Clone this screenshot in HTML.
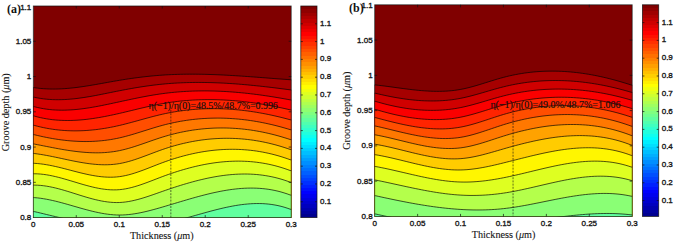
<!DOCTYPE html>
<html><head><meta charset="utf-8"><style>
html,body{margin:0;padding:0;background:#fff;}
body{width:675px;height:244px;overflow:hidden;}
svg{display:block;}
.tk{font-family:"Liberation Sans",sans-serif;font-size:8px;fill:#1a1a1a;stroke:#1a1a1a;stroke-width:0.35px;}
.an{font-family:"Liberation Serif",serif;font-size:10px;fill:#111;stroke:#111;stroke-width:0.15px;}
.al{font-family:"Liberation Serif",serif;font-size:10.2px;fill:#151515;stroke:#151515;stroke-width:0.1px;}
.pl{font-family:"Liberation Serif",serif;font-size:12px;font-weight:bold;fill:#111;}
</style></head><body>
<svg width="675" height="244" viewBox="0 0 675 244">
<rect width="675" height="244" fill="#fff"/>
<clipPath id="c0"><rect x="33.3" y="6" width="257.9" height="211.6"/></clipPath>
<g clip-path="url(#c0)">
<rect x="33.3" y="6" width="257.9" height="211.6" fill="#800000"/>
<path d="M31.3,222.6 L31.3,87.49 L34.35,87.66 L37.39,88.09 L40.44,88.44 L43.48,88.7 L46.53,88.89 L49.57,89.01 L52.62,89.06 L55.66,89.04 L58.71,88.96 L61.75,88.82 L64.8,88.63 L67.84,88.39 L70.89,88.11 L73.93,87.78 L76.98,87.41 L80.03,87.01 L83.07,86.57 L86.12,86.11 L89.16,85.62 L92.21,85.12 L95.25,84.6 L98.3,84.06 L101.34,83.52 L104.39,82.97 L107.43,82.42 L110.48,81.87 L113.52,81.33 L116.57,80.8 L119.62,80.29 L122.66,79.79 L125.71,79.31 L128.75,78.84 L131.8,78.4 L134.84,77.98 L137.89,77.57 L140.93,77.19 L143.98,76.83 L147.02,76.49 L150.07,76.17 L153.11,75.87 L156.16,75.6 L159.2,75.35 L162.25,75.13 L165.3,74.93 L168.34,74.76 L171.39,74.61 L174.43,74.49 L177.48,74.38 L180.52,74.3 L183.57,74.24 L186.61,74.2 L189.66,74.18 L192.7,74.18 L195.75,74.19 L198.79,74.22 L201.84,74.27 L204.88,74.34 L207.93,74.42 L210.98,74.52 L214.02,74.62 L217.07,74.75 L220.11,74.88 L223.16,75.03 L226.2,75.18 L229.25,75.35 L232.29,75.53 L235.34,75.71 L238.38,75.91 L241.43,76.11 L244.47,76.32 L247.52,76.53 L250.57,76.75 L253.61,76.97 L256.66,77.2 L259.7,77.43 L262.75,77.66 L265.79,77.89 L268.84,78.13 L271.88,78.36 L274.93,78.6 L277.97,78.83 L281.02,79.06 L284.06,79.29 L287.11,79.51 L290.15,79.73 L293.2,79.81 L293.2,222.6 Z" fill="#a60000"/>
<path d="M31.3,222.6 L31.3,97.02 L34.35,97.26 L37.39,97.89 L40.44,98.42 L43.48,98.85 L46.53,99.2 L49.57,99.45 L52.62,99.62 L55.66,99.71 L58.71,99.73 L61.75,99.67 L64.8,99.55 L67.84,99.36 L70.89,99.12 L73.93,98.82 L76.98,98.47 L80.03,98.07 L83.07,97.64 L86.12,97.17 L89.16,96.66 L92.21,96.13 L95.25,95.57 L98.3,94.99 L101.34,94.39 L104.39,93.78 L107.43,93.17 L110.48,92.55 L113.52,91.93 L116.57,91.32 L119.62,90.72 L122.66,90.13 L125.71,89.55 L128.75,88.99 L131.8,88.45 L134.84,87.92 L137.89,87.41 L140.93,86.93 L143.98,86.46 L147.02,86.02 L150.07,85.6 L153.11,85.2 L156.16,84.83 L159.2,84.48 L162.25,84.17 L165.3,83.88 L168.34,83.62 L171.39,83.39 L174.43,83.18 L177.48,83 L180.52,82.85 L183.57,82.72 L186.61,82.62 L189.66,82.54 L192.7,82.49 L195.75,82.45 L198.79,82.44 L201.84,82.46 L204.88,82.49 L207.93,82.55 L210.98,82.62 L214.02,82.72 L217.07,82.83 L220.11,82.96 L223.16,83.11 L226.2,83.28 L229.25,83.47 L232.29,83.67 L235.34,83.89 L238.38,84.12 L241.43,84.37 L244.47,84.63 L247.52,84.9 L250.57,85.19 L253.61,85.49 L256.66,85.8 L259.7,86.12 L262.75,86.46 L265.79,86.8 L268.84,87.15 L271.88,87.51 L274.93,87.88 L277.97,88.26 L281.02,88.65 L284.06,89.04 L287.11,89.44 L290.15,89.84 L293.2,89.98 L293.2,222.6 Z" fill="#d00000"/>
<path d="M31.3,222.6 L31.3,106.44 L34.35,106.72 L37.39,107.48 L40.44,108.14 L43.48,108.7 L46.53,109.16 L49.57,109.53 L52.62,109.82 L55.66,110.02 L58.71,110.14 L61.75,110.19 L64.8,110.16 L67.84,110.06 L70.89,109.91 L73.93,109.69 L76.98,109.41 L80.03,109.08 L83.07,108.7 L86.12,108.28 L89.16,107.82 L92.21,107.31 L95.25,106.78 L98.3,106.22 L101.34,105.63 L104.39,105.01 L107.43,104.38 L110.48,103.74 L113.52,103.09 L116.57,102.43 L119.62,101.77 L122.66,101.1 L125.71,100.45 L128.75,99.8 L131.8,99.15 L134.84,98.52 L137.89,97.9 L140.93,97.29 L143.98,96.71 L147.02,96.14 L150.07,95.59 L153.11,95.07 L156.16,94.58 L159.2,94.11 L162.25,93.68 L165.3,93.27 L168.34,92.91 L171.39,92.57 L174.43,92.27 L177.48,92 L180.52,91.76 L183.57,91.55 L186.61,91.37 L189.66,91.22 L192.7,91.1 L195.75,91.01 L198.79,90.94 L201.84,90.91 L204.88,90.9 L207.93,90.92 L210.98,90.97 L214.02,91.04 L217.07,91.13 L220.11,91.26 L223.16,91.4 L226.2,91.57 L229.25,91.77 L232.29,91.99 L235.34,92.23 L238.38,92.49 L241.43,92.77 L244.47,93.08 L247.52,93.4 L250.57,93.75 L253.61,94.12 L256.66,94.5 L259.7,94.9 L262.75,95.33 L265.79,95.77 L268.84,96.22 L271.88,96.7 L274.93,97.19 L277.97,97.69 L281.02,98.22 L284.06,98.75 L287.11,99.3 L290.15,99.87 L293.2,100.07 L293.2,222.6 Z" fill="#fa0000"/>
<path d="M31.3,222.6 L31.3,115.79 L34.35,116.09 L37.39,116.91 L40.44,117.64 L43.48,118.28 L46.53,118.83 L49.57,119.3 L52.62,119.69 L55.66,120 L58.71,120.23 L61.75,120.39 L64.8,120.48 L67.84,120.51 L70.89,120.47 L73.93,120.37 L76.98,120.21 L80.03,120 L83.07,119.73 L86.12,119.41 L89.16,119.04 L92.21,118.63 L95.25,118.17 L98.3,117.68 L101.34,117.15 L104.39,116.59 L107.43,115.99 L110.48,115.37 L113.52,114.72 L116.57,114.05 L119.62,113.36 L122.66,112.65 L125.71,111.92 L128.75,111.19 L131.8,110.46 L134.84,109.72 L137.89,108.98 L140.93,108.26 L143.98,107.54 L147.02,106.84 L150.07,106.15 L153.11,105.49 L156.16,104.86 L159.2,104.26 L162.25,103.69 L165.3,103.16 L168.34,102.67 L171.39,102.22 L174.43,101.81 L177.48,101.43 L180.52,101.09 L183.57,100.79 L186.61,100.52 L189.66,100.29 L192.7,100.09 L195.75,99.93 L198.79,99.8 L201.84,99.71 L204.88,99.65 L207.93,99.62 L210.98,99.62 L214.02,99.66 L217.07,99.73 L220.11,99.83 L223.16,99.96 L226.2,100.13 L229.25,100.32 L232.29,100.54 L235.34,100.79 L238.38,101.07 L241.43,101.38 L244.47,101.72 L247.52,102.08 L250.57,102.47 L253.61,102.89 L256.66,103.33 L259.7,103.8 L262.75,104.3 L265.79,104.82 L268.84,105.37 L271.88,105.93 L274.93,106.53 L277.97,107.14 L281.02,107.78 L284.06,108.44 L287.11,109.13 L290.15,109.83 L293.2,110.08 L293.2,222.6 Z" fill="#ff2400"/>
<path d="M31.3,222.6 L31.3,125.12 L34.35,125.41 L37.39,126.22 L40.44,126.96 L43.48,127.64 L46.53,128.24 L49.57,128.78 L52.62,129.26 L55.66,129.67 L58.71,130.02 L61.75,130.31 L64.8,130.53 L67.84,130.7 L70.89,130.81 L73.93,130.86 L76.98,130.85 L80.03,130.79 L83.07,130.68 L86.12,130.51 L89.16,130.28 L92.21,130.01 L95.25,129.69 L98.3,129.32 L101.34,128.89 L104.39,128.43 L107.43,127.91 L110.48,127.35 L113.52,126.75 L116.57,126.1 L119.62,125.41 L122.66,124.68 L125.71,123.92 L128.75,123.12 L131.8,122.31 L134.84,121.48 L137.89,120.64 L140.93,119.79 L143.98,118.95 L147.02,118.11 L150.07,117.29 L153.11,116.48 L156.16,115.71 L159.2,114.96 L162.25,114.26 L165.3,113.59 L168.34,112.97 L171.39,112.4 L174.43,111.86 L177.48,111.37 L180.52,110.92 L183.57,110.52 L186.61,110.15 L189.66,109.83 L192.7,109.54 L195.75,109.3 L198.79,109.1 L201.84,108.93 L204.88,108.81 L207.93,108.72 L210.98,108.68 L214.02,108.67 L217.07,108.7 L220.11,108.76 L223.16,108.86 L226.2,109 L229.25,109.18 L232.29,109.39 L235.34,109.64 L238.38,109.92 L241.43,110.24 L244.47,110.59 L247.52,110.98 L250.57,111.4 L253.61,111.85 L256.66,112.34 L259.7,112.86 L262.75,113.41 L265.79,113.99 L268.84,114.6 L271.88,115.25 L274.93,115.93 L277.97,116.63 L281.02,117.37 L284.06,118.13 L287.11,118.93 L290.15,119.75 L293.2,120.04 L293.2,222.6 Z" fill="#ff4e00"/>
<path d="M31.3,222.6 L31.3,134.47 L34.35,134.73 L37.39,135.46 L40.44,136.16 L43.48,136.82 L46.53,137.44 L49.57,138.02 L52.62,138.57 L55.66,139.07 L58.71,139.53 L61.75,139.94 L64.8,140.31 L67.84,140.64 L70.89,140.91 L73.93,141.14 L76.98,141.32 L80.03,141.44 L83.07,141.52 L86.12,141.54 L89.16,141.5 L92.21,141.41 L95.25,141.26 L98.3,141.05 L101.34,140.78 L104.39,140.45 L107.43,140.06 L110.48,139.61 L113.52,139.09 L116.57,138.5 L119.62,137.85 L122.66,137.13 L125.71,136.35 L128.75,135.52 L131.8,134.65 L134.84,133.75 L137.89,132.81 L140.93,131.86 L143.98,130.9 L147.02,129.94 L150.07,128.99 L153.11,128.05 L156.16,127.13 L159.2,126.25 L162.25,125.4 L165.3,124.6 L168.34,123.85 L171.39,123.15 L174.43,122.5 L177.48,121.89 L180.52,121.32 L183.57,120.81 L186.61,120.34 L189.66,119.91 L192.7,119.53 L195.75,119.2 L198.79,118.91 L201.84,118.67 L204.88,118.47 L207.93,118.31 L210.98,118.2 L214.02,118.13 L217.07,118.1 L220.11,118.12 L223.16,118.18 L226.2,118.28 L229.25,118.42 L232.29,118.61 L235.34,118.83 L238.38,119.1 L241.43,119.41 L244.47,119.76 L247.52,120.14 L250.57,120.57 L253.61,121.04 L256.66,121.55 L259.7,122.09 L262.75,122.68 L265.79,123.3 L268.84,123.97 L271.88,124.67 L274.93,125.4 L277.97,126.18 L281.02,126.99 L284.06,127.84 L287.11,128.72 L290.15,129.64 L293.2,129.97 L293.2,222.6 Z" fill="#ff7800"/>
<path d="M31.3,222.6 L31.3,143.87 L34.35,144.07 L37.39,144.66 L40.44,145.26 L43.48,145.86 L46.53,146.46 L49.57,147.06 L52.62,147.65 L55.66,148.23 L58.71,148.79 L61.75,149.33 L64.8,149.84 L67.84,150.33 L70.89,150.78 L73.93,151.2 L76.98,151.59 L80.03,151.92 L83.07,152.21 L86.12,152.45 L89.16,152.64 L92.21,152.76 L95.25,152.82 L98.3,152.82 L101.34,152.75 L104.39,152.6 L107.43,152.37 L110.48,152.06 L113.52,151.66 L116.57,151.18 L119.62,150.6 L122.66,149.92 L125.71,149.17 L128.75,148.33 L131.8,147.43 L134.84,146.48 L137.89,145.48 L140.93,144.45 L143.98,143.4 L147.02,142.33 L150.07,141.26 L153.11,140.2 L156.16,139.16 L159.2,138.15 L162.25,137.17 L165.3,136.25 L168.34,135.37 L171.39,134.55 L174.43,133.77 L177.48,133.04 L180.52,132.37 L183.57,131.74 L186.61,131.16 L189.66,130.63 L192.7,130.14 L195.75,129.71 L198.79,129.33 L201.84,128.99 L204.88,128.7 L207.93,128.46 L210.98,128.27 L214.02,128.12 L217.07,128.02 L220.11,127.97 L223.16,127.97 L226.2,128.01 L229.25,128.1 L232.29,128.24 L235.34,128.42 L238.38,128.65 L241.43,128.93 L244.47,129.25 L247.52,129.62 L250.57,130.03 L253.61,130.49 L256.66,131 L259.7,131.55 L262.75,132.15 L265.79,132.79 L268.84,133.48 L271.88,134.21 L274.93,134.98 L277.97,135.8 L281.02,136.67 L284.06,137.58 L287.11,138.53 L290.15,139.53 L293.2,139.88 L293.2,222.6 Z" fill="#ffa200"/>
<path d="M31.3,222.6 L31.3,153.41 L34.35,153.53 L37.39,153.93 L40.44,154.38 L43.48,154.88 L46.53,155.43 L49.57,156.01 L52.62,156.62 L55.66,157.25 L58.71,157.89 L61.75,158.54 L64.8,159.2 L67.84,159.85 L70.89,160.49 L73.93,161.11 L76.98,161.7 L80.03,162.26 L83.07,162.78 L86.12,163.26 L89.16,163.69 L92.21,164.05 L95.25,164.35 L98.3,164.58 L101.34,164.73 L104.39,164.79 L107.43,164.76 L110.48,164.63 L113.52,164.39 L116.57,164.04 L119.62,163.57 L122.66,162.98 L125.71,162.27 L128.75,161.47 L131.8,160.58 L134.84,159.61 L137.89,158.59 L140.93,157.51 L143.98,156.39 L147.02,155.25 L150.07,154.1 L153.11,152.95 L156.16,151.8 L159.2,150.68 L162.25,149.6 L165.3,148.57 L168.34,147.58 L171.39,146.65 L174.43,145.76 L177.48,144.92 L180.52,144.13 L183.57,143.4 L186.61,142.71 L189.66,142.07 L192.7,141.48 L195.75,140.94 L198.79,140.45 L201.84,140.01 L204.88,139.62 L207.93,139.28 L210.98,138.99 L214.02,138.75 L217.07,138.57 L220.11,138.43 L223.16,138.34 L226.2,138.31 L229.25,138.32 L232.29,138.39 L235.34,138.51 L238.38,138.67 L241.43,138.9 L244.47,139.17 L247.52,139.49 L250.57,139.86 L253.61,140.29 L256.66,140.77 L259.7,141.3 L262.75,141.88 L265.79,142.52 L268.84,143.2 L271.88,143.94 L274.93,144.73 L277.97,145.57 L281.02,146.47 L284.06,147.42 L287.11,148.42 L290.15,149.47 L293.2,149.85 L293.2,222.6 Z" fill="#ffcc00"/>
<path d="M31.3,222.6 L31.3,163.29 L34.35,163.34 L37.39,163.54 L40.44,163.85 L43.48,164.25 L46.53,164.72 L49.57,165.27 L52.62,165.89 L55.66,166.55 L58.71,167.26 L61.75,168.01 L64.8,168.78 L67.84,169.57 L70.89,170.37 L73.93,171.17 L76.98,171.95 L80.03,172.72 L83.07,173.45 L86.12,174.15 L89.16,174.8 L92.21,175.39 L95.25,175.92 L98.3,176.37 L101.34,176.73 L104.39,177.01 L107.43,177.17 L110.48,177.23 L113.52,177.17 L116.57,176.97 L119.62,176.63 L122.66,176.15 L125.71,175.54 L128.75,174.81 L131.8,173.97 L134.84,173.04 L137.89,172.03 L140.93,170.95 L143.98,169.83 L147.02,168.66 L150.07,167.48 L153.11,166.28 L156.16,165.08 L159.2,163.9 L162.25,162.75 L165.3,161.65 L168.34,160.58 L171.39,159.56 L174.43,158.59 L177.48,157.66 L180.52,156.78 L183.57,155.95 L186.61,155.16 L189.66,154.42 L192.7,153.72 L195.75,153.08 L198.79,152.48 L201.84,151.94 L204.88,151.44 L207.93,151 L210.98,150.6 L214.02,150.26 L217.07,149.97 L220.11,149.73 L223.16,149.54 L226.2,149.41 L229.25,149.33 L232.29,149.3 L235.34,149.33 L238.38,149.41 L241.43,149.55 L244.47,149.75 L247.52,150 L250.57,150.31 L253.61,150.67 L256.66,151.09 L259.7,151.58 L262.75,152.12 L265.79,152.72 L268.84,153.38 L271.88,154.1 L274.93,154.88 L277.97,155.72 L281.02,156.62 L284.06,157.59 L287.11,158.62 L290.15,159.71 L293.2,160.1 L293.2,222.6 Z" fill="#fff600"/>
<path d="M31.3,222.6 L31.3,173.78 L34.35,173.77 L37.39,173.85 L40.44,174.06 L43.48,174.38 L46.53,174.81 L49.57,175.34 L52.62,175.96 L55.66,176.65 L58.71,177.4 L61.75,178.21 L64.8,179.07 L67.84,179.95 L70.89,180.86 L73.93,181.78 L76.98,182.7 L80.03,183.61 L83.07,184.5 L86.12,185.35 L89.16,186.17 L92.21,186.93 L95.25,187.63 L98.3,188.26 L101.34,188.8 L104.39,189.24 L107.43,189.58 L110.48,189.8 L113.52,189.89 L116.57,189.85 L119.62,189.66 L122.66,189.31 L125.71,188.82 L128.75,188.2 L131.8,187.46 L134.84,186.62 L137.89,185.69 L140.93,184.69 L143.98,183.62 L147.02,182.51 L150.07,181.36 L153.11,180.19 L156.16,179.01 L159.2,177.84 L162.25,176.68 L165.3,175.56 L168.34,174.47 L171.39,173.42 L174.43,172.4 L177.48,171.42 L180.52,170.47 L183.57,169.57 L186.61,168.71 L189.66,167.88 L192.7,167.1 L195.75,166.36 L198.79,165.67 L201.84,165.02 L204.88,164.42 L207.93,163.86 L210.98,163.36 L214.02,162.9 L217.07,162.49 L220.11,162.14 L223.16,161.83 L226.2,161.58 L229.25,161.39 L232.29,161.25 L235.34,161.17 L238.38,161.14 L241.43,161.17 L244.47,161.27 L247.52,161.42 L250.57,161.64 L253.61,161.91 L256.66,162.26 L259.7,162.66 L262.75,163.13 L265.79,163.67 L268.84,164.28 L271.88,164.96 L274.93,165.7 L277.97,166.52 L281.02,167.41 L284.06,168.37 L287.11,169.41 L290.15,170.52 L293.2,170.92 L293.2,222.6 Z" fill="#deff21"/>
<path d="M31.3,222.6 L31.3,185.11 L34.35,185.11 L37.39,185.19 L40.44,185.4 L43.48,185.72 L46.53,186.16 L49.57,186.7 L52.62,187.33 L55.66,188.03 L58.71,188.81 L61.75,189.64 L64.8,190.52 L67.84,191.43 L70.89,192.37 L73.93,193.33 L76.98,194.29 L80.03,195.25 L83.07,196.19 L86.12,197.11 L89.16,197.99 L92.21,198.82 L95.25,199.6 L98.3,200.31 L101.34,200.94 L104.39,201.48 L107.43,201.92 L110.48,202.26 L113.52,202.47 L116.57,202.56 L119.62,202.5 L122.66,202.3 L125.71,201.96 L128.75,201.49 L131.8,200.91 L134.84,200.23 L137.89,199.46 L140.93,198.61 L143.98,197.7 L147.02,196.73 L150.07,195.71 L153.11,194.66 L156.16,193.6 L159.2,192.52 L162.25,191.45 L165.3,190.39 L168.34,189.35 L171.39,188.33 L174.43,187.32 L177.48,186.34 L180.52,185.38 L183.57,184.45 L186.61,183.55 L189.66,182.67 L192.7,181.83 L195.75,181.01 L198.79,180.24 L201.84,179.5 L204.88,178.8 L207.93,178.14 L210.98,177.52 L214.02,176.94 L217.07,176.41 L220.11,175.93 L223.16,175.5 L226.2,175.12 L229.25,174.79 L232.29,174.52 L235.34,174.3 L238.38,174.15 L241.43,174.05 L244.47,174.01 L247.52,174.04 L250.57,174.14 L253.61,174.3 L256.66,174.53 L259.7,174.83 L262.75,175.21 L265.79,175.66 L268.84,176.19 L271.88,176.79 L274.93,177.48 L277.97,178.25 L281.02,179.1 L284.06,180.04 L287.11,181.07 L290.15,182.18 L293.2,182.59 L293.2,222.6 Z" fill="#b4ff4b"/>
<path d="M31.3,222.6 L31.3,197.55 L34.35,197.62 L37.39,197.89 L40.44,198.26 L43.48,198.71 L46.53,199.24 L49.57,199.84 L52.62,200.5 L55.66,201.21 L58.71,201.97 L61.75,202.78 L64.8,203.61 L67.84,204.46 L70.89,205.34 L73.93,206.22 L76.98,207.09 L80.03,207.97 L83.07,208.82 L86.12,209.65 L89.16,210.45 L92.21,211.22 L95.25,211.93 L98.3,212.59 L101.34,213.19 L104.39,213.72 L107.43,214.17 L110.48,214.53 L113.52,214.8 L116.57,214.97 L119.62,215.02 L122.66,214.97 L125.71,214.81 L128.75,214.54 L131.8,214.19 L134.84,213.74 L137.89,213.22 L140.93,212.63 L143.98,211.97 L147.02,211.26 L150.07,210.5 L153.11,209.7 L156.16,208.86 L159.2,208 L162.25,207.12 L165.3,206.22 L168.34,205.32 L171.39,204.41 L174.43,203.5 L177.48,202.58 L180.52,201.67 L183.57,200.77 L186.61,199.87 L189.66,198.98 L192.7,198.11 L195.75,197.26 L198.79,196.42 L201.84,195.61 L204.88,194.83 L207.93,194.07 L210.98,193.34 L214.02,192.65 L217.07,192 L220.11,191.38 L223.16,190.81 L226.2,190.29 L229.25,189.81 L232.29,189.39 L235.34,189.02 L238.38,188.7 L241.43,188.45 L244.47,188.26 L247.52,188.14 L250.57,188.09 L253.61,188.1 L256.66,188.2 L259.7,188.37 L262.75,188.62 L265.79,188.95 L268.84,189.37 L271.88,189.88 L274.93,190.49 L277.97,191.18 L281.02,191.98 L284.06,192.88 L287.11,193.87 L290.15,194.98 L293.2,195.39 L293.2,222.6 Z" fill="#8aff75"/>
<path d="M31.3,222.6 L31.3,211.34 L34.35,211.59 L37.39,212.31 L40.44,213.03 L43.48,213.76 L46.53,214.5 L49.57,215.23 L52.62,215.96 L55.66,216.68 L58.71,217.4 L61.75,218.11 L64.8,218.81 L67.84,219.5 L70.89,220.17 L73.93,220.82 L76.98,221.46 L80.03,222.07 L83.07,222.66 L86.12,223.22 L89.16,223.76 L92.21,224.26 L95.25,224.73 L98.3,225.17 L101.34,225.57 L104.39,225.94 L107.43,226.26 L110.48,226.54 L113.52,226.77 L116.57,226.96 L119.62,227.1 L122.66,227.18 L125.71,227.22 L128.75,227.21 L131.8,227.14 L134.84,227.02 L137.89,226.86 L140.93,226.64 L143.98,226.37 L147.02,226.06 L150.07,225.69 L153.11,225.28 L156.16,224.81 L159.2,224.3 L162.25,223.74 L165.3,223.13 L168.34,222.48 L171.39,221.79 L174.43,221.06 L177.48,220.3 L180.52,219.51 L183.57,218.7 L186.61,217.87 L189.66,217.03 L192.7,216.18 L195.75,215.32 L198.79,214.46 L201.84,213.6 L204.88,212.75 L207.93,211.91 L210.98,211.09 L214.02,210.29 L217.07,209.51 L220.11,208.76 L223.16,208.04 L226.2,207.36 L229.25,206.72 L232.29,206.13 L235.34,205.59 L238.38,205.1 L241.43,204.67 L244.47,204.3 L247.52,204 L250.57,203.77 L253.61,203.61 L256.66,203.54 L259.7,203.55 L262.75,203.64 L265.79,203.83 L268.84,204.12 L271.88,204.51 L274.93,205 L277.97,205.6 L281.02,206.32 L284.06,207.15 L287.11,208.11 L290.15,209.19 L293.2,209.6 L293.2,222.6 Z" fill="#60ff9f"/>
<path d="M31.3,87.49 L34.35,87.66 L37.39,88.09 L40.44,88.44 L43.48,88.7 L46.53,88.89 L49.57,89.01 L52.62,89.06 L55.66,89.04 L58.71,88.96 L61.75,88.82 L64.8,88.63 L67.84,88.39 L70.89,88.11 L73.93,87.78 L76.98,87.41 L80.03,87.01 L83.07,86.57 L86.12,86.11 L89.16,85.62 L92.21,85.12 L95.25,84.6 L98.3,84.06 L101.34,83.52 L104.39,82.97 L107.43,82.42 L110.48,81.87 L113.52,81.33 L116.57,80.8 L119.62,80.29 L122.66,79.79 L125.71,79.31 L128.75,78.84 L131.8,78.4 L134.84,77.98 L137.89,77.57 L140.93,77.19 L143.98,76.83 L147.02,76.49 L150.07,76.17 L153.11,75.87 L156.16,75.6 L159.2,75.35 L162.25,75.13 L165.3,74.93 L168.34,74.76 L171.39,74.61 L174.43,74.49 L177.48,74.38 L180.52,74.3 L183.57,74.24 L186.61,74.2 L189.66,74.18 L192.7,74.18 L195.75,74.19 L198.79,74.22 L201.84,74.27 L204.88,74.34 L207.93,74.42 L210.98,74.52 L214.02,74.62 L217.07,74.75 L220.11,74.88 L223.16,75.03 L226.2,75.18 L229.25,75.35 L232.29,75.53 L235.34,75.71 L238.38,75.91 L241.43,76.11 L244.47,76.32 L247.52,76.53 L250.57,76.75 L253.61,76.97 L256.66,77.2 L259.7,77.43 L262.75,77.66 L265.79,77.89 L268.84,78.13 L271.88,78.36 L274.93,78.6 L277.97,78.83 L281.02,79.06 L284.06,79.29 L287.11,79.51 L290.15,79.73 L293.2,79.81" fill="none" stroke="#000" stroke-width="0.9" stroke-opacity="0.75"/>
<path d="M31.3,97.02 L34.35,97.26 L37.39,97.89 L40.44,98.42 L43.48,98.85 L46.53,99.2 L49.57,99.45 L52.62,99.62 L55.66,99.71 L58.71,99.73 L61.75,99.67 L64.8,99.55 L67.84,99.36 L70.89,99.12 L73.93,98.82 L76.98,98.47 L80.03,98.07 L83.07,97.64 L86.12,97.17 L89.16,96.66 L92.21,96.13 L95.25,95.57 L98.3,94.99 L101.34,94.39 L104.39,93.78 L107.43,93.17 L110.48,92.55 L113.52,91.93 L116.57,91.32 L119.62,90.72 L122.66,90.13 L125.71,89.55 L128.75,88.99 L131.8,88.45 L134.84,87.92 L137.89,87.41 L140.93,86.93 L143.98,86.46 L147.02,86.02 L150.07,85.6 L153.11,85.2 L156.16,84.83 L159.2,84.48 L162.25,84.17 L165.3,83.88 L168.34,83.62 L171.39,83.39 L174.43,83.18 L177.48,83 L180.52,82.85 L183.57,82.72 L186.61,82.62 L189.66,82.54 L192.7,82.49 L195.75,82.45 L198.79,82.44 L201.84,82.46 L204.88,82.49 L207.93,82.55 L210.98,82.62 L214.02,82.72 L217.07,82.83 L220.11,82.96 L223.16,83.11 L226.2,83.28 L229.25,83.47 L232.29,83.67 L235.34,83.89 L238.38,84.12 L241.43,84.37 L244.47,84.63 L247.52,84.9 L250.57,85.19 L253.61,85.49 L256.66,85.8 L259.7,86.12 L262.75,86.46 L265.79,86.8 L268.84,87.15 L271.88,87.51 L274.93,87.88 L277.97,88.26 L281.02,88.65 L284.06,89.04 L287.11,89.44 L290.15,89.84 L293.2,89.98" fill="none" stroke="#000" stroke-width="0.9" stroke-opacity="0.75"/>
<path d="M31.3,106.44 L34.35,106.72 L37.39,107.48 L40.44,108.14 L43.48,108.7 L46.53,109.16 L49.57,109.53 L52.62,109.82 L55.66,110.02 L58.71,110.14 L61.75,110.19 L64.8,110.16 L67.84,110.06 L70.89,109.91 L73.93,109.69 L76.98,109.41 L80.03,109.08 L83.07,108.7 L86.12,108.28 L89.16,107.82 L92.21,107.31 L95.25,106.78 L98.3,106.22 L101.34,105.63 L104.39,105.01 L107.43,104.38 L110.48,103.74 L113.52,103.09 L116.57,102.43 L119.62,101.77 L122.66,101.1 L125.71,100.45 L128.75,99.8 L131.8,99.15 L134.84,98.52 L137.89,97.9 L140.93,97.29 L143.98,96.71 L147.02,96.14 L150.07,95.59 L153.11,95.07 L156.16,94.58 L159.2,94.11 L162.25,93.68 L165.3,93.27 L168.34,92.91 L171.39,92.57 L174.43,92.27 L177.48,92 L180.52,91.76 L183.57,91.55 L186.61,91.37 L189.66,91.22 L192.7,91.1 L195.75,91.01 L198.79,90.94 L201.84,90.91 L204.88,90.9 L207.93,90.92 L210.98,90.97 L214.02,91.04 L217.07,91.13 L220.11,91.26 L223.16,91.4 L226.2,91.57 L229.25,91.77 L232.29,91.99 L235.34,92.23 L238.38,92.49 L241.43,92.77 L244.47,93.08 L247.52,93.4 L250.57,93.75 L253.61,94.12 L256.66,94.5 L259.7,94.9 L262.75,95.33 L265.79,95.77 L268.84,96.22 L271.88,96.7 L274.93,97.19 L277.97,97.69 L281.02,98.22 L284.06,98.75 L287.11,99.3 L290.15,99.87 L293.2,100.07" fill="none" stroke="#000" stroke-width="0.9" stroke-opacity="0.75"/>
<path d="M31.3,115.79 L34.35,116.09 L37.39,116.91 L40.44,117.64 L43.48,118.28 L46.53,118.83 L49.57,119.3 L52.62,119.69 L55.66,120 L58.71,120.23 L61.75,120.39 L64.8,120.48 L67.84,120.51 L70.89,120.47 L73.93,120.37 L76.98,120.21 L80.03,120 L83.07,119.73 L86.12,119.41 L89.16,119.04 L92.21,118.63 L95.25,118.17 L98.3,117.68 L101.34,117.15 L104.39,116.59 L107.43,115.99 L110.48,115.37 L113.52,114.72 L116.57,114.05 L119.62,113.36 L122.66,112.65 L125.71,111.92 L128.75,111.19 L131.8,110.46 L134.84,109.72 L137.89,108.98 L140.93,108.26 L143.98,107.54 L147.02,106.84 L150.07,106.15 L153.11,105.49 L156.16,104.86 L159.2,104.26 L162.25,103.69 L165.3,103.16 L168.34,102.67 L171.39,102.22 L174.43,101.81 L177.48,101.43 L180.52,101.09 L183.57,100.79 L186.61,100.52 L189.66,100.29 L192.7,100.09 L195.75,99.93 L198.79,99.8 L201.84,99.71 L204.88,99.65 L207.93,99.62 L210.98,99.62 L214.02,99.66 L217.07,99.73 L220.11,99.83 L223.16,99.96 L226.2,100.13 L229.25,100.32 L232.29,100.54 L235.34,100.79 L238.38,101.07 L241.43,101.38 L244.47,101.72 L247.52,102.08 L250.57,102.47 L253.61,102.89 L256.66,103.33 L259.7,103.8 L262.75,104.3 L265.79,104.82 L268.84,105.37 L271.88,105.93 L274.93,106.53 L277.97,107.14 L281.02,107.78 L284.06,108.44 L287.11,109.13 L290.15,109.83 L293.2,110.08" fill="none" stroke="#000" stroke-width="0.9" stroke-opacity="0.75"/>
<path d="M31.3,125.12 L34.35,125.41 L37.39,126.22 L40.44,126.96 L43.48,127.64 L46.53,128.24 L49.57,128.78 L52.62,129.26 L55.66,129.67 L58.71,130.02 L61.75,130.31 L64.8,130.53 L67.84,130.7 L70.89,130.81 L73.93,130.86 L76.98,130.85 L80.03,130.79 L83.07,130.68 L86.12,130.51 L89.16,130.28 L92.21,130.01 L95.25,129.69 L98.3,129.32 L101.34,128.89 L104.39,128.43 L107.43,127.91 L110.48,127.35 L113.52,126.75 L116.57,126.1 L119.62,125.41 L122.66,124.68 L125.71,123.92 L128.75,123.12 L131.8,122.31 L134.84,121.48 L137.89,120.64 L140.93,119.79 L143.98,118.95 L147.02,118.11 L150.07,117.29 L153.11,116.48 L156.16,115.71 L159.2,114.96 L162.25,114.26 L165.3,113.59 L168.34,112.97 L171.39,112.4 L174.43,111.86 L177.48,111.37 L180.52,110.92 L183.57,110.52 L186.61,110.15 L189.66,109.83 L192.7,109.54 L195.75,109.3 L198.79,109.1 L201.84,108.93 L204.88,108.81 L207.93,108.72 L210.98,108.68 L214.02,108.67 L217.07,108.7 L220.11,108.76 L223.16,108.86 L226.2,109 L229.25,109.18 L232.29,109.39 L235.34,109.64 L238.38,109.92 L241.43,110.24 L244.47,110.59 L247.52,110.98 L250.57,111.4 L253.61,111.85 L256.66,112.34 L259.7,112.86 L262.75,113.41 L265.79,113.99 L268.84,114.6 L271.88,115.25 L274.93,115.93 L277.97,116.63 L281.02,117.37 L284.06,118.13 L287.11,118.93 L290.15,119.75 L293.2,120.04" fill="none" stroke="#000" stroke-width="0.9" stroke-opacity="0.75"/>
<path d="M31.3,134.47 L34.35,134.73 L37.39,135.46 L40.44,136.16 L43.48,136.82 L46.53,137.44 L49.57,138.02 L52.62,138.57 L55.66,139.07 L58.71,139.53 L61.75,139.94 L64.8,140.31 L67.84,140.64 L70.89,140.91 L73.93,141.14 L76.98,141.32 L80.03,141.44 L83.07,141.52 L86.12,141.54 L89.16,141.5 L92.21,141.41 L95.25,141.26 L98.3,141.05 L101.34,140.78 L104.39,140.45 L107.43,140.06 L110.48,139.61 L113.52,139.09 L116.57,138.5 L119.62,137.85 L122.66,137.13 L125.71,136.35 L128.75,135.52 L131.8,134.65 L134.84,133.75 L137.89,132.81 L140.93,131.86 L143.98,130.9 L147.02,129.94 L150.07,128.99 L153.11,128.05 L156.16,127.13 L159.2,126.25 L162.25,125.4 L165.3,124.6 L168.34,123.85 L171.39,123.15 L174.43,122.5 L177.48,121.89 L180.52,121.32 L183.57,120.81 L186.61,120.34 L189.66,119.91 L192.7,119.53 L195.75,119.2 L198.79,118.91 L201.84,118.67 L204.88,118.47 L207.93,118.31 L210.98,118.2 L214.02,118.13 L217.07,118.1 L220.11,118.12 L223.16,118.18 L226.2,118.28 L229.25,118.42 L232.29,118.61 L235.34,118.83 L238.38,119.1 L241.43,119.41 L244.47,119.76 L247.52,120.14 L250.57,120.57 L253.61,121.04 L256.66,121.55 L259.7,122.09 L262.75,122.68 L265.79,123.3 L268.84,123.97 L271.88,124.67 L274.93,125.4 L277.97,126.18 L281.02,126.99 L284.06,127.84 L287.11,128.72 L290.15,129.64 L293.2,129.97" fill="none" stroke="#000" stroke-width="0.9" stroke-opacity="0.75"/>
<path d="M31.3,143.87 L34.35,144.07 L37.39,144.66 L40.44,145.26 L43.48,145.86 L46.53,146.46 L49.57,147.06 L52.62,147.65 L55.66,148.23 L58.71,148.79 L61.75,149.33 L64.8,149.84 L67.84,150.33 L70.89,150.78 L73.93,151.2 L76.98,151.59 L80.03,151.92 L83.07,152.21 L86.12,152.45 L89.16,152.64 L92.21,152.76 L95.25,152.82 L98.3,152.82 L101.34,152.75 L104.39,152.6 L107.43,152.37 L110.48,152.06 L113.52,151.66 L116.57,151.18 L119.62,150.6 L122.66,149.92 L125.71,149.17 L128.75,148.33 L131.8,147.43 L134.84,146.48 L137.89,145.48 L140.93,144.45 L143.98,143.4 L147.02,142.33 L150.07,141.26 L153.11,140.2 L156.16,139.16 L159.2,138.15 L162.25,137.17 L165.3,136.25 L168.34,135.37 L171.39,134.55 L174.43,133.77 L177.48,133.04 L180.52,132.37 L183.57,131.74 L186.61,131.16 L189.66,130.63 L192.7,130.14 L195.75,129.71 L198.79,129.33 L201.84,128.99 L204.88,128.7 L207.93,128.46 L210.98,128.27 L214.02,128.12 L217.07,128.02 L220.11,127.97 L223.16,127.97 L226.2,128.01 L229.25,128.1 L232.29,128.24 L235.34,128.42 L238.38,128.65 L241.43,128.93 L244.47,129.25 L247.52,129.62 L250.57,130.03 L253.61,130.49 L256.66,131 L259.7,131.55 L262.75,132.15 L265.79,132.79 L268.84,133.48 L271.88,134.21 L274.93,134.98 L277.97,135.8 L281.02,136.67 L284.06,137.58 L287.11,138.53 L290.15,139.53 L293.2,139.88" fill="none" stroke="#000" stroke-width="0.9" stroke-opacity="0.75"/>
<path d="M31.3,153.41 L34.35,153.53 L37.39,153.93 L40.44,154.38 L43.48,154.88 L46.53,155.43 L49.57,156.01 L52.62,156.62 L55.66,157.25 L58.71,157.89 L61.75,158.54 L64.8,159.2 L67.84,159.85 L70.89,160.49 L73.93,161.11 L76.98,161.7 L80.03,162.26 L83.07,162.78 L86.12,163.26 L89.16,163.69 L92.21,164.05 L95.25,164.35 L98.3,164.58 L101.34,164.73 L104.39,164.79 L107.43,164.76 L110.48,164.63 L113.52,164.39 L116.57,164.04 L119.62,163.57 L122.66,162.98 L125.71,162.27 L128.75,161.47 L131.8,160.58 L134.84,159.61 L137.89,158.59 L140.93,157.51 L143.98,156.39 L147.02,155.25 L150.07,154.1 L153.11,152.95 L156.16,151.8 L159.2,150.68 L162.25,149.6 L165.3,148.57 L168.34,147.58 L171.39,146.65 L174.43,145.76 L177.48,144.92 L180.52,144.13 L183.57,143.4 L186.61,142.71 L189.66,142.07 L192.7,141.48 L195.75,140.94 L198.79,140.45 L201.84,140.01 L204.88,139.62 L207.93,139.28 L210.98,138.99 L214.02,138.75 L217.07,138.57 L220.11,138.43 L223.16,138.34 L226.2,138.31 L229.25,138.32 L232.29,138.39 L235.34,138.51 L238.38,138.67 L241.43,138.9 L244.47,139.17 L247.52,139.49 L250.57,139.86 L253.61,140.29 L256.66,140.77 L259.7,141.3 L262.75,141.88 L265.79,142.52 L268.84,143.2 L271.88,143.94 L274.93,144.73 L277.97,145.57 L281.02,146.47 L284.06,147.42 L287.11,148.42 L290.15,149.47 L293.2,149.85" fill="none" stroke="#000" stroke-width="0.9" stroke-opacity="0.75"/>
<path d="M31.3,163.29 L34.35,163.34 L37.39,163.54 L40.44,163.85 L43.48,164.25 L46.53,164.72 L49.57,165.27 L52.62,165.89 L55.66,166.55 L58.71,167.26 L61.75,168.01 L64.8,168.78 L67.84,169.57 L70.89,170.37 L73.93,171.17 L76.98,171.95 L80.03,172.72 L83.07,173.45 L86.12,174.15 L89.16,174.8 L92.21,175.39 L95.25,175.92 L98.3,176.37 L101.34,176.73 L104.39,177.01 L107.43,177.17 L110.48,177.23 L113.52,177.17 L116.57,176.97 L119.62,176.63 L122.66,176.15 L125.71,175.54 L128.75,174.81 L131.8,173.97 L134.84,173.04 L137.89,172.03 L140.93,170.95 L143.98,169.83 L147.02,168.66 L150.07,167.48 L153.11,166.28 L156.16,165.08 L159.2,163.9 L162.25,162.75 L165.3,161.65 L168.34,160.58 L171.39,159.56 L174.43,158.59 L177.48,157.66 L180.52,156.78 L183.57,155.95 L186.61,155.16 L189.66,154.42 L192.7,153.72 L195.75,153.08 L198.79,152.48 L201.84,151.94 L204.88,151.44 L207.93,151 L210.98,150.6 L214.02,150.26 L217.07,149.97 L220.11,149.73 L223.16,149.54 L226.2,149.41 L229.25,149.33 L232.29,149.3 L235.34,149.33 L238.38,149.41 L241.43,149.55 L244.47,149.75 L247.52,150 L250.57,150.31 L253.61,150.67 L256.66,151.09 L259.7,151.58 L262.75,152.12 L265.79,152.72 L268.84,153.38 L271.88,154.1 L274.93,154.88 L277.97,155.72 L281.02,156.62 L284.06,157.59 L287.11,158.62 L290.15,159.71 L293.2,160.1" fill="none" stroke="#000" stroke-width="0.9" stroke-opacity="0.75"/>
<path d="M31.3,173.78 L34.35,173.77 L37.39,173.85 L40.44,174.06 L43.48,174.38 L46.53,174.81 L49.57,175.34 L52.62,175.96 L55.66,176.65 L58.71,177.4 L61.75,178.21 L64.8,179.07 L67.84,179.95 L70.89,180.86 L73.93,181.78 L76.98,182.7 L80.03,183.61 L83.07,184.5 L86.12,185.35 L89.16,186.17 L92.21,186.93 L95.25,187.63 L98.3,188.26 L101.34,188.8 L104.39,189.24 L107.43,189.58 L110.48,189.8 L113.52,189.89 L116.57,189.85 L119.62,189.66 L122.66,189.31 L125.71,188.82 L128.75,188.2 L131.8,187.46 L134.84,186.62 L137.89,185.69 L140.93,184.69 L143.98,183.62 L147.02,182.51 L150.07,181.36 L153.11,180.19 L156.16,179.01 L159.2,177.84 L162.25,176.68 L165.3,175.56 L168.34,174.47 L171.39,173.42 L174.43,172.4 L177.48,171.42 L180.52,170.47 L183.57,169.57 L186.61,168.71 L189.66,167.88 L192.7,167.1 L195.75,166.36 L198.79,165.67 L201.84,165.02 L204.88,164.42 L207.93,163.86 L210.98,163.36 L214.02,162.9 L217.07,162.49 L220.11,162.14 L223.16,161.83 L226.2,161.58 L229.25,161.39 L232.29,161.25 L235.34,161.17 L238.38,161.14 L241.43,161.17 L244.47,161.27 L247.52,161.42 L250.57,161.64 L253.61,161.91 L256.66,162.26 L259.7,162.66 L262.75,163.13 L265.79,163.67 L268.84,164.28 L271.88,164.96 L274.93,165.7 L277.97,166.52 L281.02,167.41 L284.06,168.37 L287.11,169.41 L290.15,170.52 L293.2,170.92" fill="none" stroke="#000" stroke-width="0.9" stroke-opacity="0.75"/>
<path d="M31.3,185.11 L34.35,185.11 L37.39,185.19 L40.44,185.4 L43.48,185.72 L46.53,186.16 L49.57,186.7 L52.62,187.33 L55.66,188.03 L58.71,188.81 L61.75,189.64 L64.8,190.52 L67.84,191.43 L70.89,192.37 L73.93,193.33 L76.98,194.29 L80.03,195.25 L83.07,196.19 L86.12,197.11 L89.16,197.99 L92.21,198.82 L95.25,199.6 L98.3,200.31 L101.34,200.94 L104.39,201.48 L107.43,201.92 L110.48,202.26 L113.52,202.47 L116.57,202.56 L119.62,202.5 L122.66,202.3 L125.71,201.96 L128.75,201.49 L131.8,200.91 L134.84,200.23 L137.89,199.46 L140.93,198.61 L143.98,197.7 L147.02,196.73 L150.07,195.71 L153.11,194.66 L156.16,193.6 L159.2,192.52 L162.25,191.45 L165.3,190.39 L168.34,189.35 L171.39,188.33 L174.43,187.32 L177.48,186.34 L180.52,185.38 L183.57,184.45 L186.61,183.55 L189.66,182.67 L192.7,181.83 L195.75,181.01 L198.79,180.24 L201.84,179.5 L204.88,178.8 L207.93,178.14 L210.98,177.52 L214.02,176.94 L217.07,176.41 L220.11,175.93 L223.16,175.5 L226.2,175.12 L229.25,174.79 L232.29,174.52 L235.34,174.3 L238.38,174.15 L241.43,174.05 L244.47,174.01 L247.52,174.04 L250.57,174.14 L253.61,174.3 L256.66,174.53 L259.7,174.83 L262.75,175.21 L265.79,175.66 L268.84,176.19 L271.88,176.79 L274.93,177.48 L277.97,178.25 L281.02,179.1 L284.06,180.04 L287.11,181.07 L290.15,182.18 L293.2,182.59" fill="none" stroke="#000" stroke-width="0.9" stroke-opacity="0.75"/>
<path d="M31.3,197.55 L34.35,197.62 L37.39,197.89 L40.44,198.26 L43.48,198.71 L46.53,199.24 L49.57,199.84 L52.62,200.5 L55.66,201.21 L58.71,201.97 L61.75,202.78 L64.8,203.61 L67.84,204.46 L70.89,205.34 L73.93,206.22 L76.98,207.09 L80.03,207.97 L83.07,208.82 L86.12,209.65 L89.16,210.45 L92.21,211.22 L95.25,211.93 L98.3,212.59 L101.34,213.19 L104.39,213.72 L107.43,214.17 L110.48,214.53 L113.52,214.8 L116.57,214.97 L119.62,215.02 L122.66,214.97 L125.71,214.81 L128.75,214.54 L131.8,214.19 L134.84,213.74 L137.89,213.22 L140.93,212.63 L143.98,211.97 L147.02,211.26 L150.07,210.5 L153.11,209.7 L156.16,208.86 L159.2,208 L162.25,207.12 L165.3,206.22 L168.34,205.32 L171.39,204.41 L174.43,203.5 L177.48,202.58 L180.52,201.67 L183.57,200.77 L186.61,199.87 L189.66,198.98 L192.7,198.11 L195.75,197.26 L198.79,196.42 L201.84,195.61 L204.88,194.83 L207.93,194.07 L210.98,193.34 L214.02,192.65 L217.07,192 L220.11,191.38 L223.16,190.81 L226.2,190.29 L229.25,189.81 L232.29,189.39 L235.34,189.02 L238.38,188.7 L241.43,188.45 L244.47,188.26 L247.52,188.14 L250.57,188.09 L253.61,188.1 L256.66,188.2 L259.7,188.37 L262.75,188.62 L265.79,188.95 L268.84,189.37 L271.88,189.88 L274.93,190.49 L277.97,191.18 L281.02,191.98 L284.06,192.88 L287.11,193.87 L290.15,194.98 L293.2,195.39" fill="none" stroke="#000" stroke-width="0.9" stroke-opacity="0.75"/>
<path d="M31.3,211.34 L34.35,211.59 L37.39,212.31 L40.44,213.03 L43.48,213.76 L46.53,214.5 L49.57,215.23 L52.62,215.96 L55.66,216.68 L58.71,217.4 L61.75,218.11 L64.8,218.81 L67.84,219.5 L70.89,220.17 L73.93,220.82 L76.98,221.46 L80.03,222.07 L83.07,222.66 L86.12,223.22 L89.16,223.76 L92.21,224.26 L95.25,224.73 L98.3,225.17 L101.34,225.57 L104.39,225.94 L107.43,226.26 L110.48,226.54 L113.52,226.77 L116.57,226.96 L119.62,227.1 L122.66,227.18 L125.71,227.22 L128.75,227.21 L131.8,227.14 L134.84,227.02 L137.89,226.86 L140.93,226.64 L143.98,226.37 L147.02,226.06 L150.07,225.69 L153.11,225.28 L156.16,224.81 L159.2,224.3 L162.25,223.74 L165.3,223.13 L168.34,222.48 L171.39,221.79 L174.43,221.06 L177.48,220.3 L180.52,219.51 L183.57,218.7 L186.61,217.87 L189.66,217.03 L192.7,216.18 L195.75,215.32 L198.79,214.46 L201.84,213.6 L204.88,212.75 L207.93,211.91 L210.98,211.09 L214.02,210.29 L217.07,209.51 L220.11,208.76 L223.16,208.04 L226.2,207.36 L229.25,206.72 L232.29,206.13 L235.34,205.59 L238.38,205.1 L241.43,204.67 L244.47,204.3 L247.52,204 L250.57,203.77 L253.61,203.61 L256.66,203.54 L259.7,203.55 L262.75,203.64 L265.79,203.83 L268.84,204.12 L271.88,204.51 L274.93,205 L277.97,205.6 L281.02,206.32 L284.06,207.15 L287.11,208.11 L290.15,209.19 L293.2,209.6" fill="none" stroke="#000" stroke-width="0.9" stroke-opacity="0.75"/>
<line x1="170.85" y1="110" x2="170.85" y2="217.6" stroke="#111" stroke-width="1.0" stroke-dasharray="2,1.2" stroke-opacity="0.6"/>
</g>
<text class="an" x="148.6" y="108.5" textLength="129.2" lengthAdjust="spacingAndGlyphs">&#951;(&#8722;1)/&#951;(0)=48.5%/48.7%=0.996</text>
<rect x="33.3" y="6" width="257.9" height="211.6" fill="none" stroke="#111" stroke-width="0.8" stroke-opacity="0.85"/>
<text class="tk" x="33.3" y="227" text-anchor="middle">0</text>
<line x1="76.28" y1="217.6" x2="76.28" y2="215.1" stroke="#111" stroke-width="0.7"/>
<line x1="76.28" y1="6" x2="76.28" y2="8.5" stroke="#111" stroke-width="0.7"/>
<text class="tk" x="76.28" y="227" text-anchor="middle">0.05</text>
<line x1="119.27" y1="217.6" x2="119.27" y2="215.1" stroke="#111" stroke-width="0.7"/>
<line x1="119.27" y1="6" x2="119.27" y2="8.5" stroke="#111" stroke-width="0.7"/>
<text class="tk" x="119.27" y="227" text-anchor="middle">0.1</text>
<line x1="162.25" y1="217.6" x2="162.25" y2="215.1" stroke="#111" stroke-width="0.7"/>
<line x1="162.25" y1="6" x2="162.25" y2="8.5" stroke="#111" stroke-width="0.7"/>
<text class="tk" x="162.25" y="227" text-anchor="middle">0.15</text>
<line x1="205.23" y1="217.6" x2="205.23" y2="215.1" stroke="#111" stroke-width="0.7"/>
<line x1="205.23" y1="6" x2="205.23" y2="8.5" stroke="#111" stroke-width="0.7"/>
<text class="tk" x="205.23" y="227" text-anchor="middle">0.2</text>
<line x1="248.22" y1="217.6" x2="248.22" y2="215.1" stroke="#111" stroke-width="0.7"/>
<line x1="248.22" y1="6" x2="248.22" y2="8.5" stroke="#111" stroke-width="0.7"/>
<text class="tk" x="248.22" y="227" text-anchor="middle">0.25</text>
<text class="tk" x="291.2" y="227" text-anchor="middle">0.3</text>
<text class="tk" x="31.3" y="220.2" text-anchor="end">0.8</text>
<line x1="33.3" y1="182.33" x2="35.8" y2="182.33" stroke="#111" stroke-width="0.7"/>
<line x1="288.7" y1="182.33" x2="291.2" y2="182.33" stroke="#111" stroke-width="0.7"/>
<text class="tk" x="31.3" y="184.93" text-anchor="end">0.85</text>
<line x1="33.3" y1="147.07" x2="35.8" y2="147.07" stroke="#111" stroke-width="0.7"/>
<line x1="288.7" y1="147.07" x2="291.2" y2="147.07" stroke="#111" stroke-width="0.7"/>
<text class="tk" x="31.3" y="149.67" text-anchor="end">0.9</text>
<line x1="33.3" y1="111.8" x2="35.8" y2="111.8" stroke="#111" stroke-width="0.7"/>
<line x1="288.7" y1="111.8" x2="291.2" y2="111.8" stroke="#111" stroke-width="0.7"/>
<text class="tk" x="31.3" y="114.4" text-anchor="end">0.95</text>
<line x1="33.3" y1="76.53" x2="35.8" y2="76.53" stroke="#111" stroke-width="0.7"/>
<line x1="288.7" y1="76.53" x2="291.2" y2="76.53" stroke="#111" stroke-width="0.7"/>
<text class="tk" x="31.3" y="79.13" text-anchor="end">1</text>
<line x1="33.3" y1="41.27" x2="35.8" y2="41.27" stroke="#111" stroke-width="0.7"/>
<line x1="288.7" y1="41.27" x2="291.2" y2="41.27" stroke="#111" stroke-width="0.7"/>
<text class="tk" x="31.3" y="43.87" text-anchor="end">1.05</text>
<text class="tk" x="31.3" y="9.6" text-anchor="end">1.1</text>
<text class="al" x="161.75" y="239.1" text-anchor="middle">Thickness (<tspan font-style="italic">&#956;</tspan>m)</text>
<text class="al" transform="translate(9.3,112.3) rotate(-90)" text-anchor="middle">Groove depth (<tspan font-style="italic">&#956;</tspan>m)</text>
<text class="pl" x="6.9" y="13.4">(a)</text>
<linearGradient id="g0" x1="0" y1="1" x2="0" y2="0"><stop offset="0%" stop-color="#00008f"/><stop offset="1.56%" stop-color="#00008f"/><stop offset="1.56%" stop-color="#00009f"/><stop offset="3.12%" stop-color="#00009f"/><stop offset="3.12%" stop-color="#0000af"/><stop offset="4.69%" stop-color="#0000af"/><stop offset="4.69%" stop-color="#0000bf"/><stop offset="6.25%" stop-color="#0000bf"/><stop offset="6.25%" stop-color="#0000cf"/><stop offset="7.81%" stop-color="#0000cf"/><stop offset="7.81%" stop-color="#0000df"/><stop offset="9.38%" stop-color="#0000df"/><stop offset="9.38%" stop-color="#0000ef"/><stop offset="10.94%" stop-color="#0000ef"/><stop offset="10.94%" stop-color="#0000ff"/><stop offset="12.5%" stop-color="#0000ff"/><stop offset="12.5%" stop-color="#0010ff"/><stop offset="14.06%" stop-color="#0010ff"/><stop offset="14.06%" stop-color="#0020ff"/><stop offset="15.62%" stop-color="#0020ff"/><stop offset="15.62%" stop-color="#0030ff"/><stop offset="17.19%" stop-color="#0030ff"/><stop offset="17.19%" stop-color="#0040ff"/><stop offset="18.75%" stop-color="#0040ff"/><stop offset="18.75%" stop-color="#0050ff"/><stop offset="20.31%" stop-color="#0050ff"/><stop offset="20.31%" stop-color="#0060ff"/><stop offset="21.88%" stop-color="#0060ff"/><stop offset="21.88%" stop-color="#0070ff"/><stop offset="23.44%" stop-color="#0070ff"/><stop offset="23.44%" stop-color="#0080ff"/><stop offset="25%" stop-color="#0080ff"/><stop offset="25%" stop-color="#008fff"/><stop offset="26.56%" stop-color="#008fff"/><stop offset="26.56%" stop-color="#009fff"/><stop offset="28.12%" stop-color="#009fff"/><stop offset="28.12%" stop-color="#00afff"/><stop offset="29.69%" stop-color="#00afff"/><stop offset="29.69%" stop-color="#00bfff"/><stop offset="31.25%" stop-color="#00bfff"/><stop offset="31.25%" stop-color="#00cfff"/><stop offset="32.81%" stop-color="#00cfff"/><stop offset="32.81%" stop-color="#00dfff"/><stop offset="34.38%" stop-color="#00dfff"/><stop offset="34.38%" stop-color="#00efff"/><stop offset="35.94%" stop-color="#00efff"/><stop offset="35.94%" stop-color="#00ffff"/><stop offset="37.5%" stop-color="#00ffff"/><stop offset="37.5%" stop-color="#10ffef"/><stop offset="39.06%" stop-color="#10ffef"/><stop offset="39.06%" stop-color="#20ffdf"/><stop offset="40.62%" stop-color="#20ffdf"/><stop offset="40.62%" stop-color="#30ffcf"/><stop offset="42.19%" stop-color="#30ffcf"/><stop offset="42.19%" stop-color="#40ffbf"/><stop offset="43.75%" stop-color="#40ffbf"/><stop offset="43.75%" stop-color="#50ffaf"/><stop offset="45.31%" stop-color="#50ffaf"/><stop offset="45.31%" stop-color="#60ff9f"/><stop offset="46.88%" stop-color="#60ff9f"/><stop offset="46.88%" stop-color="#70ff8f"/><stop offset="48.44%" stop-color="#70ff8f"/><stop offset="48.44%" stop-color="#80ff80"/><stop offset="50%" stop-color="#80ff80"/><stop offset="50%" stop-color="#8fff70"/><stop offset="51.56%" stop-color="#8fff70"/><stop offset="51.56%" stop-color="#9fff60"/><stop offset="53.12%" stop-color="#9fff60"/><stop offset="53.12%" stop-color="#afff50"/><stop offset="54.69%" stop-color="#afff50"/><stop offset="54.69%" stop-color="#bfff40"/><stop offset="56.25%" stop-color="#bfff40"/><stop offset="56.25%" stop-color="#cfff30"/><stop offset="57.81%" stop-color="#cfff30"/><stop offset="57.81%" stop-color="#dfff20"/><stop offset="59.38%" stop-color="#dfff20"/><stop offset="59.38%" stop-color="#efff10"/><stop offset="60.94%" stop-color="#efff10"/><stop offset="60.94%" stop-color="#ffff00"/><stop offset="62.5%" stop-color="#ffff00"/><stop offset="62.5%" stop-color="#ffef00"/><stop offset="64.06%" stop-color="#ffef00"/><stop offset="64.06%" stop-color="#ffdf00"/><stop offset="65.62%" stop-color="#ffdf00"/><stop offset="65.62%" stop-color="#ffcf00"/><stop offset="67.19%" stop-color="#ffcf00"/><stop offset="67.19%" stop-color="#ffbf00"/><stop offset="68.75%" stop-color="#ffbf00"/><stop offset="68.75%" stop-color="#ffaf00"/><stop offset="70.31%" stop-color="#ffaf00"/><stop offset="70.31%" stop-color="#ff9f00"/><stop offset="71.88%" stop-color="#ff9f00"/><stop offset="71.88%" stop-color="#ff8f00"/><stop offset="73.44%" stop-color="#ff8f00"/><stop offset="73.44%" stop-color="#ff8000"/><stop offset="75%" stop-color="#ff8000"/><stop offset="75%" stop-color="#ff7000"/><stop offset="76.56%" stop-color="#ff7000"/><stop offset="76.56%" stop-color="#ff6000"/><stop offset="78.12%" stop-color="#ff6000"/><stop offset="78.12%" stop-color="#ff5000"/><stop offset="79.69%" stop-color="#ff5000"/><stop offset="79.69%" stop-color="#ff4000"/><stop offset="81.25%" stop-color="#ff4000"/><stop offset="81.25%" stop-color="#ff3000"/><stop offset="82.81%" stop-color="#ff3000"/><stop offset="82.81%" stop-color="#ff2000"/><stop offset="84.38%" stop-color="#ff2000"/><stop offset="84.38%" stop-color="#ff1000"/><stop offset="85.94%" stop-color="#ff1000"/><stop offset="85.94%" stop-color="#ff0000"/><stop offset="87.5%" stop-color="#ff0000"/><stop offset="87.5%" stop-color="#ef0000"/><stop offset="89.06%" stop-color="#ef0000"/><stop offset="89.06%" stop-color="#df0000"/><stop offset="90.62%" stop-color="#df0000"/><stop offset="90.62%" stop-color="#cf0000"/><stop offset="92.19%" stop-color="#cf0000"/><stop offset="92.19%" stop-color="#bf0000"/><stop offset="93.75%" stop-color="#bf0000"/><stop offset="93.75%" stop-color="#af0000"/><stop offset="95.31%" stop-color="#af0000"/><stop offset="95.31%" stop-color="#9f0000"/><stop offset="96.88%" stop-color="#9f0000"/><stop offset="96.88%" stop-color="#8f0000"/><stop offset="98.44%" stop-color="#8f0000"/><stop offset="98.44%" stop-color="#800000"/><stop offset="100%" stop-color="#800000"/></linearGradient>
<rect x="300.8" y="6" width="16.2" height="211.6" fill="url(#g0)" stroke="#111" stroke-width="0.8" stroke-opacity="0.85"/>
<line x1="300.8" y1="201.76" x2="302.8" y2="201.76" stroke="#111" stroke-width="0.7"/>
<line x1="315" y1="201.76" x2="317" y2="201.76" stroke="#111" stroke-width="0.7"/>
<text class="tk" x="320" y="203.76">0.1</text>
<line x1="300.8" y1="183.96" x2="302.8" y2="183.96" stroke="#111" stroke-width="0.7"/>
<line x1="315" y1="183.96" x2="317" y2="183.96" stroke="#111" stroke-width="0.7"/>
<text class="tk" x="320" y="185.96">0.2</text>
<line x1="300.8" y1="166.17" x2="302.8" y2="166.17" stroke="#111" stroke-width="0.7"/>
<line x1="315" y1="166.17" x2="317" y2="166.17" stroke="#111" stroke-width="0.7"/>
<text class="tk" x="320" y="168.17">0.3</text>
<line x1="300.8" y1="148.37" x2="302.8" y2="148.37" stroke="#111" stroke-width="0.7"/>
<line x1="315" y1="148.37" x2="317" y2="148.37" stroke="#111" stroke-width="0.7"/>
<text class="tk" x="320" y="150.37">0.4</text>
<line x1="300.8" y1="130.58" x2="302.8" y2="130.58" stroke="#111" stroke-width="0.7"/>
<line x1="315" y1="130.58" x2="317" y2="130.58" stroke="#111" stroke-width="0.7"/>
<text class="tk" x="320" y="132.58">0.5</text>
<line x1="300.8" y1="112.78" x2="302.8" y2="112.78" stroke="#111" stroke-width="0.7"/>
<line x1="315" y1="112.78" x2="317" y2="112.78" stroke="#111" stroke-width="0.7"/>
<text class="tk" x="320" y="114.78">0.6</text>
<line x1="300.8" y1="94.98" x2="302.8" y2="94.98" stroke="#111" stroke-width="0.7"/>
<line x1="315" y1="94.98" x2="317" y2="94.98" stroke="#111" stroke-width="0.7"/>
<text class="tk" x="320" y="96.98">0.7</text>
<line x1="300.8" y1="77.19" x2="302.8" y2="77.19" stroke="#111" stroke-width="0.7"/>
<line x1="315" y1="77.19" x2="317" y2="77.19" stroke="#111" stroke-width="0.7"/>
<text class="tk" x="320" y="79.19">0.8</text>
<line x1="300.8" y1="59.39" x2="302.8" y2="59.39" stroke="#111" stroke-width="0.7"/>
<line x1="315" y1="59.39" x2="317" y2="59.39" stroke="#111" stroke-width="0.7"/>
<text class="tk" x="320" y="61.39">0.9</text>
<line x1="300.8" y1="41.59" x2="302.8" y2="41.59" stroke="#111" stroke-width="0.7"/>
<line x1="315" y1="41.59" x2="317" y2="41.59" stroke="#111" stroke-width="0.7"/>
<text class="tk" x="320" y="43.59">1</text>
<line x1="300.8" y1="23.8" x2="302.8" y2="23.8" stroke="#111" stroke-width="0.7"/>
<line x1="315" y1="23.8" x2="317" y2="23.8" stroke="#111" stroke-width="0.7"/>
<text class="tk" x="320" y="25.8">1.1</text>
<clipPath id="c1"><rect x="374.7" y="4.8" width="257.5" height="211.6"/></clipPath>
<g clip-path="url(#c1)">
<rect x="374.7" y="4.8" width="257.5" height="211.6" fill="#800000"/>
<path d="M372.7,221.4 L372.7,84.88 L375.74,84.99 L378.78,85.34 L381.82,85.7 L384.86,86.09 L387.9,86.48 L390.94,86.89 L393.98,87.31 L397.03,87.72 L400.07,88.14 L403.11,88.54 L406.15,88.94 L409.19,89.32 L412.23,89.68 L415.27,90.02 L418.31,90.32 L421.35,90.6 L424.39,90.84 L427.43,91.04 L430.47,91.2 L433.51,91.3 L436.55,91.36 L439.6,91.35 L442.64,91.29 L445.68,91.16 L448.72,90.96 L451.76,90.68 L454.8,90.33 L457.84,89.89 L460.88,89.37 L463.92,88.76 L466.96,88.07 L470,87.31 L473.04,86.49 L476.08,85.63 L479.12,84.72 L482.17,83.79 L485.21,82.84 L488.25,81.89 L491.29,80.94 L494.33,80 L497.37,79.09 L500.41,78.21 L503.45,77.38 L506.49,76.6 L509.53,75.87 L512.57,75.2 L515.61,74.58 L518.65,74.02 L521.69,73.5 L524.73,73.04 L527.78,72.63 L530.82,72.27 L533.86,71.96 L536.9,71.7 L539.94,71.49 L542.98,71.33 L546.02,71.22 L549.06,71.15 L552.1,71.13 L555.14,71.15 L558.18,71.22 L561.22,71.34 L564.26,71.49 L567.3,71.7 L570.35,71.94 L573.39,72.23 L576.43,72.56 L579.47,72.93 L582.51,73.35 L585.55,73.8 L588.59,74.29 L591.63,74.82 L594.67,75.39 L597.71,76 L600.75,76.64 L603.79,77.33 L606.83,78.04 L609.87,78.8 L612.92,79.59 L615.96,80.41 L619,81.27 L622.04,82.16 L625.08,83.08 L628.12,84.03 L631.16,85.02 L634.2,85.36 L634.2,221.4 Z" fill="#a60000"/>
<path d="M372.7,221.4 L372.7,93.08 L375.74,93.34 L378.78,94.05 L381.82,94.74 L384.86,95.41 L387.9,96.04 L390.94,96.65 L393.98,97.22 L397.03,97.76 L400.07,98.26 L403.11,98.73 L406.15,99.16 L409.19,99.55 L412.23,99.89 L415.27,100.19 L418.31,100.45 L421.35,100.66 L424.39,100.82 L427.43,100.92 L430.47,100.98 L433.51,100.98 L436.55,100.93 L439.6,100.81 L442.64,100.64 L445.68,100.41 L448.72,100.11 L451.76,99.75 L454.8,99.33 L457.84,98.83 L460.88,98.27 L463.92,97.64 L466.96,96.94 L470,96.19 L473.04,95.4 L476.08,94.57 L479.12,93.71 L482.17,92.84 L485.21,91.95 L488.25,91.06 L491.29,90.17 L494.33,89.3 L497.37,88.45 L500.41,87.63 L503.45,86.85 L506.49,86.12 L509.53,85.43 L512.57,84.79 L515.61,84.2 L518.65,83.65 L521.69,83.15 L524.73,82.69 L527.78,82.28 L530.82,81.91 L533.86,81.59 L536.9,81.31 L539.94,81.07 L542.98,80.88 L546.02,80.73 L549.06,80.62 L552.1,80.55 L555.14,80.53 L558.18,80.55 L561.22,80.6 L564.26,80.7 L567.3,80.84 L570.35,81.01 L573.39,81.23 L576.43,81.48 L579.47,81.78 L582.51,82.11 L585.55,82.47 L588.59,82.88 L591.63,83.32 L594.67,83.8 L597.71,84.32 L600.75,84.87 L603.79,85.45 L606.83,86.07 L609.87,86.73 L612.92,87.42 L615.96,88.14 L619,88.9 L622.04,89.69 L625.08,90.51 L628.12,91.36 L631.16,92.25 L634.2,92.56 L634.2,221.4 Z" fill="#d00000"/>
<path d="M372.7,221.4 L372.7,101.15 L375.74,101.46 L378.78,102.34 L381.82,103.18 L384.86,103.99 L387.9,104.75 L390.94,105.46 L393.98,106.14 L397.03,106.76 L400.07,107.35 L403.11,107.88 L406.15,108.37 L409.19,108.8 L412.23,109.19 L415.27,109.52 L418.31,109.8 L421.35,110.03 L424.39,110.2 L427.43,110.31 L430.47,110.37 L433.51,110.37 L436.55,110.31 L439.6,110.19 L442.64,110 L445.68,109.76 L448.72,109.45 L451.76,109.07 L454.8,108.63 L457.84,108.12 L460.88,107.54 L463.92,106.89 L466.96,106.18 L470,105.42 L473.04,104.62 L476.08,103.78 L479.12,102.91 L482.17,102.02 L485.21,101.12 L488.25,100.22 L491.29,99.32 L494.33,98.43 L497.37,97.57 L500.41,96.73 L503.45,95.94 L506.49,95.18 L509.53,94.47 L512.57,93.81 L515.61,93.19 L518.65,92.61 L521.69,92.08 L524.73,91.6 L527.78,91.15 L530.82,90.75 L533.86,90.4 L536.9,90.08 L539.94,89.81 L542.98,89.58 L546.02,89.39 L549.06,89.25 L552.1,89.14 L555.14,89.08 L558.18,89.06 L561.22,89.07 L564.26,89.13 L567.3,89.23 L570.35,89.37 L573.39,89.54 L576.43,89.76 L579.47,90.02 L582.51,90.31 L585.55,90.64 L588.59,91.01 L591.63,91.42 L594.67,91.87 L597.71,92.35 L600.75,92.87 L603.79,93.43 L606.83,94.02 L609.87,94.65 L612.92,95.32 L615.96,96.02 L619,96.76 L622.04,97.53 L625.08,98.33 L628.12,99.18 L631.16,100.05 L634.2,100.36 L634.2,221.4 Z" fill="#fa0000"/>
<path d="M372.7,221.4 L372.7,109.21 L375.74,109.52 L378.78,110.42 L381.82,111.28 L384.86,112.12 L387.9,112.92 L390.94,113.68 L393.98,114.41 L397.03,115.1 L400.07,115.74 L403.11,116.34 L406.15,116.9 L409.19,117.41 L412.23,117.87 L415.27,118.29 L418.31,118.64 L421.35,118.95 L424.39,119.2 L427.43,119.39 L430.47,119.52 L433.51,119.59 L436.55,119.6 L439.6,119.54 L442.64,119.41 L445.68,119.22 L448.72,118.95 L451.76,118.61 L454.8,118.2 L457.84,117.71 L460.88,117.15 L463.92,116.5 L466.96,115.79 L470,115.01 L473.04,114.19 L476.08,113.32 L479.12,112.41 L482.17,111.49 L485.21,110.54 L488.25,109.59 L491.29,108.64 L494.33,107.69 L497.37,106.77 L500.41,105.88 L503.45,105.02 L506.49,104.21 L509.53,103.44 L512.57,102.72 L515.61,102.04 L518.65,101.41 L521.69,100.83 L524.73,100.29 L527.78,99.79 L530.82,99.34 L533.86,98.93 L536.9,98.57 L539.94,98.25 L542.98,97.98 L546.02,97.75 L549.06,97.56 L552.1,97.41 L555.14,97.31 L558.18,97.25 L561.22,97.24 L564.26,97.27 L567.3,97.34 L570.35,97.45 L573.39,97.6 L576.43,97.8 L579.47,98.04 L582.51,98.32 L585.55,98.64 L588.59,99.01 L591.63,99.41 L594.67,99.86 L597.71,100.34 L600.75,100.87 L603.79,101.44 L606.83,102.05 L609.87,102.7 L612.92,103.38 L615.96,104.11 L619,104.88 L622.04,105.69 L625.08,106.54 L628.12,107.42 L631.16,108.35 L634.2,108.67 L634.2,221.4 Z" fill="#ff2400"/>
<path d="M372.7,221.4 L372.7,117.4 L375.74,117.68 L378.78,118.49 L381.82,119.3 L384.86,120.1 L387.9,120.88 L390.94,121.65 L393.98,122.39 L397.03,123.11 L400.07,123.81 L403.11,124.47 L406.15,125.11 L409.19,125.7 L412.23,126.26 L415.27,126.77 L418.31,127.23 L421.35,127.65 L424.39,128.01 L427.43,128.32 L430.47,128.57 L433.51,128.76 L436.55,128.88 L439.6,128.93 L442.64,128.91 L445.68,128.81 L448.72,128.63 L451.76,128.38 L454.8,128.03 L457.84,127.6 L460.88,127.08 L463.92,126.46 L466.96,125.77 L470,124.99 L473.04,124.16 L476.08,123.27 L479.12,122.34 L482.17,121.37 L485.21,120.38 L488.25,119.37 L491.29,118.37 L494.33,117.36 L497.37,116.38 L500.41,115.42 L503.45,114.49 L506.49,113.61 L509.53,112.77 L512.57,111.98 L515.61,111.24 L518.65,110.54 L521.69,109.89 L524.73,109.29 L527.78,108.72 L530.82,108.21 L533.86,107.74 L536.9,107.32 L539.94,106.94 L542.98,106.61 L546.02,106.33 L549.06,106.09 L552.1,105.9 L555.14,105.75 L558.18,105.65 L561.22,105.59 L564.26,105.58 L567.3,105.62 L570.35,105.7 L573.39,105.83 L576.43,106.01 L579.47,106.23 L582.51,106.5 L585.55,106.81 L588.59,107.17 L591.63,107.58 L594.67,108.03 L597.71,108.53 L600.75,109.07 L603.79,109.66 L606.83,110.3 L609.87,110.98 L612.92,111.71 L615.96,112.49 L619,113.31 L622.04,114.18 L625.08,115.09 L628.12,116.05 L631.16,117.06 L634.2,117.42 L634.2,221.4 Z" fill="#ff4e00"/>
<path d="M372.7,221.4 L372.7,125.86 L375.74,126.1 L378.78,126.79 L381.82,127.5 L384.86,128.22 L387.9,128.96 L390.94,129.7 L393.98,130.44 L397.03,131.18 L400.07,131.91 L403.11,132.63 L406.15,133.32 L409.19,134 L412.23,134.64 L415.27,135.26 L418.31,135.83 L421.35,136.36 L424.39,136.85 L427.43,137.29 L430.47,137.67 L433.51,137.98 L436.55,138.24 L439.6,138.42 L442.64,138.52 L445.68,138.55 L448.72,138.49 L451.76,138.34 L454.8,138.1 L457.84,137.76 L460.88,137.31 L463.92,136.76 L466.96,136.12 L470,135.38 L473.04,134.58 L476.08,133.71 L479.12,132.78 L482.17,131.81 L485.21,130.81 L488.25,129.79 L491.29,128.76 L494.33,127.72 L497.37,126.7 L500.41,125.7 L503.45,124.73 L506.49,123.8 L509.53,122.91 L512.57,122.06 L515.61,121.26 L518.65,120.5 L521.69,119.79 L524.73,119.11 L527.78,118.49 L530.82,117.9 L533.86,117.37 L536.9,116.88 L539.94,116.43 L542.98,116.03 L546.02,115.68 L549.06,115.37 L552.1,115.11 L555.14,114.9 L558.18,114.74 L561.22,114.63 L564.26,114.56 L567.3,114.54 L570.35,114.57 L573.39,114.66 L576.43,114.79 L579.47,114.97 L582.51,115.2 L585.55,115.49 L588.59,115.82 L591.63,116.21 L594.67,116.65 L597.71,117.14 L600.75,117.69 L603.79,118.28 L606.83,118.94 L609.87,119.64 L612.92,120.4 L615.96,121.21 L619,122.08 L622.04,123.01 L625.08,123.99 L628.12,125.02 L631.16,126.12 L634.2,126.5 L634.2,221.4 Z" fill="#ff7800"/>
<path d="M372.7,221.4 L372.7,134.73 L375.74,134.92 L378.78,135.51 L381.82,136.13 L384.86,136.79 L387.9,137.48 L390.94,138.19 L393.98,138.92 L397.03,139.66 L400.07,140.4 L403.11,141.15 L406.15,141.89 L409.19,142.62 L412.23,143.34 L415.27,144.03 L418.31,144.69 L421.35,145.32 L424.39,145.91 L427.43,146.46 L430.47,146.95 L433.51,147.39 L436.55,147.76 L439.6,148.07 L442.64,148.3 L445.68,148.46 L448.72,148.52 L451.76,148.5 L454.8,148.38 L457.84,148.16 L460.88,147.83 L463.92,147.38 L466.96,146.84 L470,146.21 L473.04,145.49 L476.08,144.7 L479.12,143.86 L482.17,142.96 L485.21,142.02 L488.25,141.05 L491.29,140.06 L494.33,139.07 L497.37,138.07 L500.41,137.08 L503.45,136.12 L506.49,135.18 L509.53,134.28 L512.57,133.42 L515.61,132.58 L518.65,131.78 L521.69,131.02 L524.73,130.3 L527.78,129.61 L530.82,128.96 L533.86,128.35 L536.9,127.79 L539.94,127.26 L542.98,126.78 L546.02,126.34 L549.06,125.94 L552.1,125.6 L555.14,125.29 L558.18,125.04 L561.22,124.83 L564.26,124.67 L567.3,124.56 L570.35,124.5 L573.39,124.5 L576.43,124.54 L579.47,124.64 L582.51,124.8 L585.55,125.01 L588.59,125.27 L591.63,125.6 L594.67,125.98 L597.71,126.42 L600.75,126.92 L603.79,127.48 L606.83,128.11 L609.87,128.79 L612.92,129.54 L615.96,130.36 L619,131.24 L622.04,132.19 L625.08,133.2 L628.12,134.28 L631.16,135.43 L634.2,135.84 L634.2,221.4 Z" fill="#ffa200"/>
<path d="M372.7,221.4 L372.7,144.19 L375.74,144.36 L378.78,144.9 L381.82,145.48 L384.86,146.1 L387.9,146.76 L390.94,147.45 L393.98,148.17 L397.03,148.9 L400.07,149.65 L403.11,150.4 L406.15,151.16 L409.19,151.92 L412.23,152.66 L415.27,153.39 L418.31,154.1 L421.35,154.78 L424.39,155.43 L427.43,156.04 L430.47,156.61 L433.51,157.13 L436.55,157.6 L439.6,158 L442.64,158.34 L445.68,158.6 L448.72,158.79 L451.76,158.89 L454.8,158.9 L457.84,158.82 L460.88,158.64 L463.92,158.35 L466.96,157.97 L470,157.5 L473.04,156.95 L476.08,156.33 L479.12,155.65 L482.17,154.91 L485.21,154.12 L488.25,153.3 L491.29,152.45 L494.33,151.58 L497.37,150.7 L500.41,149.81 L503.45,148.93 L506.49,148.06 L509.53,147.2 L512.57,146.36 L515.61,145.54 L518.65,144.74 L521.69,143.96 L524.73,143.2 L527.78,142.47 L530.82,141.77 L533.86,141.09 L536.9,140.45 L539.94,139.84 L542.98,139.26 L546.02,138.71 L549.06,138.21 L552.1,137.74 L555.14,137.32 L558.18,136.93 L561.22,136.6 L564.26,136.3 L567.3,136.06 L570.35,135.86 L573.39,135.72 L576.43,135.63 L579.47,135.59 L582.51,135.61 L585.55,135.69 L588.59,135.83 L591.63,136.03 L594.67,136.29 L597.71,136.62 L600.75,137.02 L603.79,137.48 L606.83,138.02 L609.87,138.62 L612.92,139.31 L615.96,140.06 L619,140.9 L622.04,141.81 L625.08,142.8 L628.12,143.88 L631.16,145.04 L634.2,145.46 L634.2,221.4 Z" fill="#ffcc00"/>
<path d="M372.7,221.4 L372.7,154.6 L375.74,154.77 L378.78,155.31 L381.82,155.89 L384.86,156.5 L387.9,157.15 L390.94,157.83 L393.98,158.53 L397.03,159.25 L400.07,159.98 L403.11,160.73 L406.15,161.47 L409.19,162.22 L412.23,162.96 L415.27,163.69 L418.31,164.4 L421.35,165.09 L424.39,165.76 L427.43,166.39 L430.47,166.99 L433.51,167.55 L436.55,168.07 L439.6,168.53 L442.64,168.94 L445.68,169.29 L448.72,169.57 L451.76,169.79 L454.8,169.93 L457.84,169.99 L460.88,169.96 L463.92,169.85 L466.96,169.66 L470,169.38 L473.04,169.04 L476.08,168.63 L479.12,168.16 L482.17,167.64 L485.21,167.07 L488.25,166.45 L491.29,165.8 L494.33,165.12 L497.37,164.41 L500.41,163.67 L503.45,162.93 L506.49,162.17 L509.53,161.41 L512.57,160.64 L515.61,159.87 L518.65,159.1 L521.69,158.34 L524.73,157.58 L527.78,156.83 L530.82,156.09 L533.86,155.37 L536.9,154.66 L539.94,153.97 L542.98,153.31 L546.02,152.67 L549.06,152.05 L552.1,151.47 L555.14,150.92 L558.18,150.4 L561.22,149.92 L564.26,149.49 L567.3,149.09 L570.35,148.74 L573.39,148.44 L576.43,148.19 L579.47,147.99 L582.51,147.85 L585.55,147.77 L588.59,147.75 L591.63,147.79 L594.67,147.9 L597.71,148.08 L600.75,148.34 L603.79,148.66 L606.83,149.06 L609.87,149.55 L612.92,150.11 L615.96,150.76 L619,151.5 L622.04,152.32 L625.08,153.24 L628.12,154.26 L631.16,155.37 L634.2,155.78 L634.2,221.4 Z" fill="#fff600"/>
<path d="M372.7,221.4 L372.7,166.36 L375.74,166.55 L378.78,167.12 L381.82,167.72 L384.86,168.34 L387.9,168.99 L390.94,169.66 L393.98,170.35 L397.03,171.05 L400.07,171.75 L403.11,172.46 L406.15,173.17 L409.19,173.88 L412.23,174.58 L415.27,175.28 L418.31,175.96 L421.35,176.62 L424.39,177.26 L427.43,177.88 L430.47,178.47 L433.51,179.03 L436.55,179.55 L439.6,180.04 L442.64,180.48 L445.68,180.88 L448.72,181.22 L451.76,181.52 L454.8,181.75 L457.84,181.93 L460.88,182.04 L463.92,182.09 L466.96,182.07 L470,181.99 L473.04,181.85 L476.08,181.65 L479.12,181.4 L482.17,181.1 L485.21,180.75 L488.25,180.35 L491.29,179.91 L494.33,179.43 L497.37,178.92 L500.41,178.36 L503.45,177.78 L506.49,177.16 L509.53,176.52 L512.57,175.85 L515.61,175.17 L518.65,174.46 L521.69,173.75 L524.73,173.02 L527.78,172.29 L530.82,171.55 L533.86,170.81 L536.9,170.08 L539.94,169.35 L542.98,168.63 L546.02,167.93 L549.06,167.24 L552.1,166.57 L555.14,165.92 L558.18,165.3 L561.22,164.71 L564.26,164.16 L567.3,163.64 L570.35,163.16 L573.39,162.72 L576.43,162.33 L579.47,161.98 L582.51,161.7 L585.55,161.46 L588.59,161.29 L591.63,161.18 L594.67,161.14 L597.71,161.16 L600.75,161.26 L603.79,161.43 L606.83,161.69 L609.87,162.02 L612.92,162.45 L615.96,162.96 L619,163.56 L622.04,164.27 L625.08,165.07 L628.12,165.97 L631.16,166.98 L634.2,167.35 L634.2,221.4 Z" fill="#deff21"/>
<path d="M372.7,221.4 L372.7,179.87 L375.74,180.08 L378.78,180.7 L381.82,181.34 L384.86,181.98 L387.9,182.63 L390.94,183.29 L393.98,183.96 L397.03,184.62 L400.07,185.29 L403.11,185.95 L406.15,186.61 L409.19,187.26 L412.23,187.9 L415.27,188.53 L418.31,189.14 L421.35,189.74 L424.39,190.33 L427.43,190.89 L430.47,191.43 L433.51,191.95 L436.55,192.44 L439.6,192.9 L442.64,193.32 L445.68,193.72 L448.72,194.08 L451.76,194.4 L454.8,194.69 L457.84,194.93 L460.88,195.12 L463.92,195.27 L466.96,195.38 L470,195.44 L473.04,195.45 L476.08,195.42 L479.12,195.34 L482.17,195.22 L485.21,195.05 L488.25,194.84 L491.29,194.59 L494.33,194.29 L497.37,193.95 L500.41,193.56 L503.45,193.13 L506.49,192.66 L509.53,192.15 L512.57,191.6 L515.61,191.02 L518.65,190.41 L521.69,189.77 L524.73,189.12 L527.78,188.44 L530.82,187.76 L533.86,187.06 L536.9,186.35 L539.94,185.64 L542.98,184.93 L546.02,184.22 L549.06,183.52 L552.1,182.83 L555.14,182.16 L558.18,181.5 L561.22,180.86 L564.26,180.25 L567.3,179.67 L570.35,179.12 L573.39,178.61 L576.43,178.13 L579.47,177.7 L582.51,177.31 L585.55,176.98 L588.59,176.7 L591.63,176.47 L594.67,176.31 L597.71,176.21 L600.75,176.18 L603.79,176.22 L606.83,176.33 L609.87,176.53 L612.92,176.81 L615.96,177.17 L619,177.62 L622.04,178.17 L625.08,178.81 L628.12,179.55 L631.16,180.4 L634.2,180.71 L634.2,221.4 Z" fill="#b4ff4b"/>
<path d="M372.7,221.4 L372.7,195.54 L375.74,195.77 L378.78,196.44 L381.82,197.11 L384.86,197.77 L387.9,198.42 L390.94,199.06 L393.98,199.69 L397.03,200.32 L400.07,200.93 L403.11,201.53 L406.15,202.12 L409.19,202.69 L412.23,203.25 L415.27,203.8 L418.31,204.33 L421.35,204.84 L424.39,205.33 L427.43,205.8 L430.47,206.25 L433.51,206.69 L436.55,207.1 L439.6,207.48 L442.64,207.84 L445.68,208.18 L448.72,208.49 L451.76,208.78 L454.8,209.03 L457.84,209.26 L460.88,209.46 L463.92,209.63 L466.96,209.77 L470,209.87 L473.04,209.94 L476.08,209.98 L479.12,209.98 L482.17,209.95 L485.21,209.88 L488.25,209.77 L491.29,209.63 L494.33,209.44 L497.37,209.22 L500.41,208.95 L503.45,208.64 L506.49,208.29 L509.53,207.9 L512.57,207.48 L515.61,207.02 L518.65,206.53 L521.69,206.01 L524.73,205.47 L527.78,204.91 L530.82,204.33 L533.86,203.73 L536.9,203.13 L539.94,202.52 L542.98,201.9 L546.02,201.28 L549.06,200.66 L552.1,200.05 L555.14,199.45 L558.18,198.85 L561.22,198.27 L564.26,197.71 L567.3,197.17 L570.35,196.65 L573.39,196.16 L576.43,195.7 L579.47,195.27 L582.51,194.88 L585.55,194.53 L588.59,194.22 L591.63,193.96 L594.67,193.75 L597.71,193.59 L600.75,193.48 L603.79,193.43 L606.83,193.45 L609.87,193.53 L612.92,193.68 L615.96,193.9 L619,194.19 L622.04,194.56 L625.08,195.02 L628.12,195.55 L631.16,196.18 L634.2,196.41 L634.2,221.4 Z" fill="#8aff75"/>
<path d="M372.7,221.4 L372.7,213.78 L375.74,214.02 L378.78,214.72 L381.82,215.4 L384.86,216.05 L387.9,216.69 L390.94,217.3 L393.98,217.9 L397.03,218.47 L400.07,219.02 L403.11,219.55 L406.15,220.06 L409.19,220.55 L412.23,221.01 L415.27,221.45 L418.31,221.87 L421.35,222.27 L424.39,222.65 L427.43,223 L430.47,223.33 L433.51,223.63 L436.55,223.91 L439.6,224.17 L442.64,224.41 L445.68,224.62 L448.72,224.8 L451.76,224.97 L454.8,225.1 L457.84,225.22 L460.88,225.3 L463.92,225.37 L466.96,225.41 L470,225.42 L473.04,225.41 L476.08,225.37 L479.12,225.31 L482.17,225.23 L485.21,225.12 L488.25,224.99 L491.29,224.83 L494.33,224.65 L497.37,224.45 L500.41,224.22 L503.45,223.97 L506.49,223.7 L509.53,223.4 L512.57,223.08 L515.61,222.75 L518.65,222.4 L521.69,222.04 L524.73,221.66 L527.78,221.27 L530.82,220.88 L533.86,220.48 L536.9,220.07 L539.94,219.66 L542.98,219.24 L546.02,218.83 L549.06,218.42 L552.1,218.02 L555.14,217.62 L558.18,217.22 L561.22,216.84 L564.26,216.47 L567.3,216.11 L570.35,215.77 L573.39,215.44 L576.43,215.13 L579.47,214.84 L582.51,214.58 L585.55,214.34 L588.59,214.12 L591.63,213.93 L594.67,213.78 L597.71,213.65 L600.75,213.55 L603.79,213.5 L606.83,213.48 L609.87,213.49 L612.92,213.55 L615.96,213.65 L619,213.8 L622.04,213.99 L625.08,214.22 L628.12,214.51 L631.16,214.85 L634.2,214.98 L634.2,221.4 Z" fill="#60ff9f"/>
<path d="M372.7,84.88 L375.74,84.99 L378.78,85.34 L381.82,85.7 L384.86,86.09 L387.9,86.48 L390.94,86.89 L393.98,87.31 L397.03,87.72 L400.07,88.14 L403.11,88.54 L406.15,88.94 L409.19,89.32 L412.23,89.68 L415.27,90.02 L418.31,90.32 L421.35,90.6 L424.39,90.84 L427.43,91.04 L430.47,91.2 L433.51,91.3 L436.55,91.36 L439.6,91.35 L442.64,91.29 L445.68,91.16 L448.72,90.96 L451.76,90.68 L454.8,90.33 L457.84,89.89 L460.88,89.37 L463.92,88.76 L466.96,88.07 L470,87.31 L473.04,86.49 L476.08,85.63 L479.12,84.72 L482.17,83.79 L485.21,82.84 L488.25,81.89 L491.29,80.94 L494.33,80 L497.37,79.09 L500.41,78.21 L503.45,77.38 L506.49,76.6 L509.53,75.87 L512.57,75.2 L515.61,74.58 L518.65,74.02 L521.69,73.5 L524.73,73.04 L527.78,72.63 L530.82,72.27 L533.86,71.96 L536.9,71.7 L539.94,71.49 L542.98,71.33 L546.02,71.22 L549.06,71.15 L552.1,71.13 L555.14,71.15 L558.18,71.22 L561.22,71.34 L564.26,71.49 L567.3,71.7 L570.35,71.94 L573.39,72.23 L576.43,72.56 L579.47,72.93 L582.51,73.35 L585.55,73.8 L588.59,74.29 L591.63,74.82 L594.67,75.39 L597.71,76 L600.75,76.64 L603.79,77.33 L606.83,78.04 L609.87,78.8 L612.92,79.59 L615.96,80.41 L619,81.27 L622.04,82.16 L625.08,83.08 L628.12,84.03 L631.16,85.02 L634.2,85.36" fill="none" stroke="#000" stroke-width="0.9" stroke-opacity="0.75"/>
<path d="M372.7,93.08 L375.74,93.34 L378.78,94.05 L381.82,94.74 L384.86,95.41 L387.9,96.04 L390.94,96.65 L393.98,97.22 L397.03,97.76 L400.07,98.26 L403.11,98.73 L406.15,99.16 L409.19,99.55 L412.23,99.89 L415.27,100.19 L418.31,100.45 L421.35,100.66 L424.39,100.82 L427.43,100.92 L430.47,100.98 L433.51,100.98 L436.55,100.93 L439.6,100.81 L442.64,100.64 L445.68,100.41 L448.72,100.11 L451.76,99.75 L454.8,99.33 L457.84,98.83 L460.88,98.27 L463.92,97.64 L466.96,96.94 L470,96.19 L473.04,95.4 L476.08,94.57 L479.12,93.71 L482.17,92.84 L485.21,91.95 L488.25,91.06 L491.29,90.17 L494.33,89.3 L497.37,88.45 L500.41,87.63 L503.45,86.85 L506.49,86.12 L509.53,85.43 L512.57,84.79 L515.61,84.2 L518.65,83.65 L521.69,83.15 L524.73,82.69 L527.78,82.28 L530.82,81.91 L533.86,81.59 L536.9,81.31 L539.94,81.07 L542.98,80.88 L546.02,80.73 L549.06,80.62 L552.1,80.55 L555.14,80.53 L558.18,80.55 L561.22,80.6 L564.26,80.7 L567.3,80.84 L570.35,81.01 L573.39,81.23 L576.43,81.48 L579.47,81.78 L582.51,82.11 L585.55,82.47 L588.59,82.88 L591.63,83.32 L594.67,83.8 L597.71,84.32 L600.75,84.87 L603.79,85.45 L606.83,86.07 L609.87,86.73 L612.92,87.42 L615.96,88.14 L619,88.9 L622.04,89.69 L625.08,90.51 L628.12,91.36 L631.16,92.25 L634.2,92.56" fill="none" stroke="#000" stroke-width="0.9" stroke-opacity="0.75"/>
<path d="M372.7,101.15 L375.74,101.46 L378.78,102.34 L381.82,103.18 L384.86,103.99 L387.9,104.75 L390.94,105.46 L393.98,106.14 L397.03,106.76 L400.07,107.35 L403.11,107.88 L406.15,108.37 L409.19,108.8 L412.23,109.19 L415.27,109.52 L418.31,109.8 L421.35,110.03 L424.39,110.2 L427.43,110.31 L430.47,110.37 L433.51,110.37 L436.55,110.31 L439.6,110.19 L442.64,110 L445.68,109.76 L448.72,109.45 L451.76,109.07 L454.8,108.63 L457.84,108.12 L460.88,107.54 L463.92,106.89 L466.96,106.18 L470,105.42 L473.04,104.62 L476.08,103.78 L479.12,102.91 L482.17,102.02 L485.21,101.12 L488.25,100.22 L491.29,99.32 L494.33,98.43 L497.37,97.57 L500.41,96.73 L503.45,95.94 L506.49,95.18 L509.53,94.47 L512.57,93.81 L515.61,93.19 L518.65,92.61 L521.69,92.08 L524.73,91.6 L527.78,91.15 L530.82,90.75 L533.86,90.4 L536.9,90.08 L539.94,89.81 L542.98,89.58 L546.02,89.39 L549.06,89.25 L552.1,89.14 L555.14,89.08 L558.18,89.06 L561.22,89.07 L564.26,89.13 L567.3,89.23 L570.35,89.37 L573.39,89.54 L576.43,89.76 L579.47,90.02 L582.51,90.31 L585.55,90.64 L588.59,91.01 L591.63,91.42 L594.67,91.87 L597.71,92.35 L600.75,92.87 L603.79,93.43 L606.83,94.02 L609.87,94.65 L612.92,95.32 L615.96,96.02 L619,96.76 L622.04,97.53 L625.08,98.33 L628.12,99.18 L631.16,100.05 L634.2,100.36" fill="none" stroke="#000" stroke-width="0.9" stroke-opacity="0.75"/>
<path d="M372.7,109.21 L375.74,109.52 L378.78,110.42 L381.82,111.28 L384.86,112.12 L387.9,112.92 L390.94,113.68 L393.98,114.41 L397.03,115.1 L400.07,115.74 L403.11,116.34 L406.15,116.9 L409.19,117.41 L412.23,117.87 L415.27,118.29 L418.31,118.64 L421.35,118.95 L424.39,119.2 L427.43,119.39 L430.47,119.52 L433.51,119.59 L436.55,119.6 L439.6,119.54 L442.64,119.41 L445.68,119.22 L448.72,118.95 L451.76,118.61 L454.8,118.2 L457.84,117.71 L460.88,117.15 L463.92,116.5 L466.96,115.79 L470,115.01 L473.04,114.19 L476.08,113.32 L479.12,112.41 L482.17,111.49 L485.21,110.54 L488.25,109.59 L491.29,108.64 L494.33,107.69 L497.37,106.77 L500.41,105.88 L503.45,105.02 L506.49,104.21 L509.53,103.44 L512.57,102.72 L515.61,102.04 L518.65,101.41 L521.69,100.83 L524.73,100.29 L527.78,99.79 L530.82,99.34 L533.86,98.93 L536.9,98.57 L539.94,98.25 L542.98,97.98 L546.02,97.75 L549.06,97.56 L552.1,97.41 L555.14,97.31 L558.18,97.25 L561.22,97.24 L564.26,97.27 L567.3,97.34 L570.35,97.45 L573.39,97.6 L576.43,97.8 L579.47,98.04 L582.51,98.32 L585.55,98.64 L588.59,99.01 L591.63,99.41 L594.67,99.86 L597.71,100.34 L600.75,100.87 L603.79,101.44 L606.83,102.05 L609.87,102.7 L612.92,103.38 L615.96,104.11 L619,104.88 L622.04,105.69 L625.08,106.54 L628.12,107.42 L631.16,108.35 L634.2,108.67" fill="none" stroke="#000" stroke-width="0.9" stroke-opacity="0.75"/>
<path d="M372.7,117.4 L375.74,117.68 L378.78,118.49 L381.82,119.3 L384.86,120.1 L387.9,120.88 L390.94,121.65 L393.98,122.39 L397.03,123.11 L400.07,123.81 L403.11,124.47 L406.15,125.11 L409.19,125.7 L412.23,126.26 L415.27,126.77 L418.31,127.23 L421.35,127.65 L424.39,128.01 L427.43,128.32 L430.47,128.57 L433.51,128.76 L436.55,128.88 L439.6,128.93 L442.64,128.91 L445.68,128.81 L448.72,128.63 L451.76,128.38 L454.8,128.03 L457.84,127.6 L460.88,127.08 L463.92,126.46 L466.96,125.77 L470,124.99 L473.04,124.16 L476.08,123.27 L479.12,122.34 L482.17,121.37 L485.21,120.38 L488.25,119.37 L491.29,118.37 L494.33,117.36 L497.37,116.38 L500.41,115.42 L503.45,114.49 L506.49,113.61 L509.53,112.77 L512.57,111.98 L515.61,111.24 L518.65,110.54 L521.69,109.89 L524.73,109.29 L527.78,108.72 L530.82,108.21 L533.86,107.74 L536.9,107.32 L539.94,106.94 L542.98,106.61 L546.02,106.33 L549.06,106.09 L552.1,105.9 L555.14,105.75 L558.18,105.65 L561.22,105.59 L564.26,105.58 L567.3,105.62 L570.35,105.7 L573.39,105.83 L576.43,106.01 L579.47,106.23 L582.51,106.5 L585.55,106.81 L588.59,107.17 L591.63,107.58 L594.67,108.03 L597.71,108.53 L600.75,109.07 L603.79,109.66 L606.83,110.3 L609.87,110.98 L612.92,111.71 L615.96,112.49 L619,113.31 L622.04,114.18 L625.08,115.09 L628.12,116.05 L631.16,117.06 L634.2,117.42" fill="none" stroke="#000" stroke-width="0.9" stroke-opacity="0.75"/>
<path d="M372.7,125.86 L375.74,126.1 L378.78,126.79 L381.82,127.5 L384.86,128.22 L387.9,128.96 L390.94,129.7 L393.98,130.44 L397.03,131.18 L400.07,131.91 L403.11,132.63 L406.15,133.32 L409.19,134 L412.23,134.64 L415.27,135.26 L418.31,135.83 L421.35,136.36 L424.39,136.85 L427.43,137.29 L430.47,137.67 L433.51,137.98 L436.55,138.24 L439.6,138.42 L442.64,138.52 L445.68,138.55 L448.72,138.49 L451.76,138.34 L454.8,138.1 L457.84,137.76 L460.88,137.31 L463.92,136.76 L466.96,136.12 L470,135.38 L473.04,134.58 L476.08,133.71 L479.12,132.78 L482.17,131.81 L485.21,130.81 L488.25,129.79 L491.29,128.76 L494.33,127.72 L497.37,126.7 L500.41,125.7 L503.45,124.73 L506.49,123.8 L509.53,122.91 L512.57,122.06 L515.61,121.26 L518.65,120.5 L521.69,119.79 L524.73,119.11 L527.78,118.49 L530.82,117.9 L533.86,117.37 L536.9,116.88 L539.94,116.43 L542.98,116.03 L546.02,115.68 L549.06,115.37 L552.1,115.11 L555.14,114.9 L558.18,114.74 L561.22,114.63 L564.26,114.56 L567.3,114.54 L570.35,114.57 L573.39,114.66 L576.43,114.79 L579.47,114.97 L582.51,115.2 L585.55,115.49 L588.59,115.82 L591.63,116.21 L594.67,116.65 L597.71,117.14 L600.75,117.69 L603.79,118.28 L606.83,118.94 L609.87,119.64 L612.92,120.4 L615.96,121.21 L619,122.08 L622.04,123.01 L625.08,123.99 L628.12,125.02 L631.16,126.12 L634.2,126.5" fill="none" stroke="#000" stroke-width="0.9" stroke-opacity="0.75"/>
<path d="M372.7,134.73 L375.74,134.92 L378.78,135.51 L381.82,136.13 L384.86,136.79 L387.9,137.48 L390.94,138.19 L393.98,138.92 L397.03,139.66 L400.07,140.4 L403.11,141.15 L406.15,141.89 L409.19,142.62 L412.23,143.34 L415.27,144.03 L418.31,144.69 L421.35,145.32 L424.39,145.91 L427.43,146.46 L430.47,146.95 L433.51,147.39 L436.55,147.76 L439.6,148.07 L442.64,148.3 L445.68,148.46 L448.72,148.52 L451.76,148.5 L454.8,148.38 L457.84,148.16 L460.88,147.83 L463.92,147.38 L466.96,146.84 L470,146.21 L473.04,145.49 L476.08,144.7 L479.12,143.86 L482.17,142.96 L485.21,142.02 L488.25,141.05 L491.29,140.06 L494.33,139.07 L497.37,138.07 L500.41,137.08 L503.45,136.12 L506.49,135.18 L509.53,134.28 L512.57,133.42 L515.61,132.58 L518.65,131.78 L521.69,131.02 L524.73,130.3 L527.78,129.61 L530.82,128.96 L533.86,128.35 L536.9,127.79 L539.94,127.26 L542.98,126.78 L546.02,126.34 L549.06,125.94 L552.1,125.6 L555.14,125.29 L558.18,125.04 L561.22,124.83 L564.26,124.67 L567.3,124.56 L570.35,124.5 L573.39,124.5 L576.43,124.54 L579.47,124.64 L582.51,124.8 L585.55,125.01 L588.59,125.27 L591.63,125.6 L594.67,125.98 L597.71,126.42 L600.75,126.92 L603.79,127.48 L606.83,128.11 L609.87,128.79 L612.92,129.54 L615.96,130.36 L619,131.24 L622.04,132.19 L625.08,133.2 L628.12,134.28 L631.16,135.43 L634.2,135.84" fill="none" stroke="#000" stroke-width="0.9" stroke-opacity="0.75"/>
<path d="M372.7,144.19 L375.74,144.36 L378.78,144.9 L381.82,145.48 L384.86,146.1 L387.9,146.76 L390.94,147.45 L393.98,148.17 L397.03,148.9 L400.07,149.65 L403.11,150.4 L406.15,151.16 L409.19,151.92 L412.23,152.66 L415.27,153.39 L418.31,154.1 L421.35,154.78 L424.39,155.43 L427.43,156.04 L430.47,156.61 L433.51,157.13 L436.55,157.6 L439.6,158 L442.64,158.34 L445.68,158.6 L448.72,158.79 L451.76,158.89 L454.8,158.9 L457.84,158.82 L460.88,158.64 L463.92,158.35 L466.96,157.97 L470,157.5 L473.04,156.95 L476.08,156.33 L479.12,155.65 L482.17,154.91 L485.21,154.12 L488.25,153.3 L491.29,152.45 L494.33,151.58 L497.37,150.7 L500.41,149.81 L503.45,148.93 L506.49,148.06 L509.53,147.2 L512.57,146.36 L515.61,145.54 L518.65,144.74 L521.69,143.96 L524.73,143.2 L527.78,142.47 L530.82,141.77 L533.86,141.09 L536.9,140.45 L539.94,139.84 L542.98,139.26 L546.02,138.71 L549.06,138.21 L552.1,137.74 L555.14,137.32 L558.18,136.93 L561.22,136.6 L564.26,136.3 L567.3,136.06 L570.35,135.86 L573.39,135.72 L576.43,135.63 L579.47,135.59 L582.51,135.61 L585.55,135.69 L588.59,135.83 L591.63,136.03 L594.67,136.29 L597.71,136.62 L600.75,137.02 L603.79,137.48 L606.83,138.02 L609.87,138.62 L612.92,139.31 L615.96,140.06 L619,140.9 L622.04,141.81 L625.08,142.8 L628.12,143.88 L631.16,145.04 L634.2,145.46" fill="none" stroke="#000" stroke-width="0.9" stroke-opacity="0.75"/>
<path d="M372.7,154.6 L375.74,154.77 L378.78,155.31 L381.82,155.89 L384.86,156.5 L387.9,157.15 L390.94,157.83 L393.98,158.53 L397.03,159.25 L400.07,159.98 L403.11,160.73 L406.15,161.47 L409.19,162.22 L412.23,162.96 L415.27,163.69 L418.31,164.4 L421.35,165.09 L424.39,165.76 L427.43,166.39 L430.47,166.99 L433.51,167.55 L436.55,168.07 L439.6,168.53 L442.64,168.94 L445.68,169.29 L448.72,169.57 L451.76,169.79 L454.8,169.93 L457.84,169.99 L460.88,169.96 L463.92,169.85 L466.96,169.66 L470,169.38 L473.04,169.04 L476.08,168.63 L479.12,168.16 L482.17,167.64 L485.21,167.07 L488.25,166.45 L491.29,165.8 L494.33,165.12 L497.37,164.41 L500.41,163.67 L503.45,162.93 L506.49,162.17 L509.53,161.41 L512.57,160.64 L515.61,159.87 L518.65,159.1 L521.69,158.34 L524.73,157.58 L527.78,156.83 L530.82,156.09 L533.86,155.37 L536.9,154.66 L539.94,153.97 L542.98,153.31 L546.02,152.67 L549.06,152.05 L552.1,151.47 L555.14,150.92 L558.18,150.4 L561.22,149.92 L564.26,149.49 L567.3,149.09 L570.35,148.74 L573.39,148.44 L576.43,148.19 L579.47,147.99 L582.51,147.85 L585.55,147.77 L588.59,147.75 L591.63,147.79 L594.67,147.9 L597.71,148.08 L600.75,148.34 L603.79,148.66 L606.83,149.06 L609.87,149.55 L612.92,150.11 L615.96,150.76 L619,151.5 L622.04,152.32 L625.08,153.24 L628.12,154.26 L631.16,155.37 L634.2,155.78" fill="none" stroke="#000" stroke-width="0.9" stroke-opacity="0.75"/>
<path d="M372.7,166.36 L375.74,166.55 L378.78,167.12 L381.82,167.72 L384.86,168.34 L387.9,168.99 L390.94,169.66 L393.98,170.35 L397.03,171.05 L400.07,171.75 L403.11,172.46 L406.15,173.17 L409.19,173.88 L412.23,174.58 L415.27,175.28 L418.31,175.96 L421.35,176.62 L424.39,177.26 L427.43,177.88 L430.47,178.47 L433.51,179.03 L436.55,179.55 L439.6,180.04 L442.64,180.48 L445.68,180.88 L448.72,181.22 L451.76,181.52 L454.8,181.75 L457.84,181.93 L460.88,182.04 L463.92,182.09 L466.96,182.07 L470,181.99 L473.04,181.85 L476.08,181.65 L479.12,181.4 L482.17,181.1 L485.21,180.75 L488.25,180.35 L491.29,179.91 L494.33,179.43 L497.37,178.92 L500.41,178.36 L503.45,177.78 L506.49,177.16 L509.53,176.52 L512.57,175.85 L515.61,175.17 L518.65,174.46 L521.69,173.75 L524.73,173.02 L527.78,172.29 L530.82,171.55 L533.86,170.81 L536.9,170.08 L539.94,169.35 L542.98,168.63 L546.02,167.93 L549.06,167.24 L552.1,166.57 L555.14,165.92 L558.18,165.3 L561.22,164.71 L564.26,164.16 L567.3,163.64 L570.35,163.16 L573.39,162.72 L576.43,162.33 L579.47,161.98 L582.51,161.7 L585.55,161.46 L588.59,161.29 L591.63,161.18 L594.67,161.14 L597.71,161.16 L600.75,161.26 L603.79,161.43 L606.83,161.69 L609.87,162.02 L612.92,162.45 L615.96,162.96 L619,163.56 L622.04,164.27 L625.08,165.07 L628.12,165.97 L631.16,166.98 L634.2,167.35" fill="none" stroke="#000" stroke-width="0.9" stroke-opacity="0.75"/>
<path d="M372.7,179.87 L375.74,180.08 L378.78,180.7 L381.82,181.34 L384.86,181.98 L387.9,182.63 L390.94,183.29 L393.98,183.96 L397.03,184.62 L400.07,185.29 L403.11,185.95 L406.15,186.61 L409.19,187.26 L412.23,187.9 L415.27,188.53 L418.31,189.14 L421.35,189.74 L424.39,190.33 L427.43,190.89 L430.47,191.43 L433.51,191.95 L436.55,192.44 L439.6,192.9 L442.64,193.32 L445.68,193.72 L448.72,194.08 L451.76,194.4 L454.8,194.69 L457.84,194.93 L460.88,195.12 L463.92,195.27 L466.96,195.38 L470,195.44 L473.04,195.45 L476.08,195.42 L479.12,195.34 L482.17,195.22 L485.21,195.05 L488.25,194.84 L491.29,194.59 L494.33,194.29 L497.37,193.95 L500.41,193.56 L503.45,193.13 L506.49,192.66 L509.53,192.15 L512.57,191.6 L515.61,191.02 L518.65,190.41 L521.69,189.77 L524.73,189.12 L527.78,188.44 L530.82,187.76 L533.86,187.06 L536.9,186.35 L539.94,185.64 L542.98,184.93 L546.02,184.22 L549.06,183.52 L552.1,182.83 L555.14,182.16 L558.18,181.5 L561.22,180.86 L564.26,180.25 L567.3,179.67 L570.35,179.12 L573.39,178.61 L576.43,178.13 L579.47,177.7 L582.51,177.31 L585.55,176.98 L588.59,176.7 L591.63,176.47 L594.67,176.31 L597.71,176.21 L600.75,176.18 L603.79,176.22 L606.83,176.33 L609.87,176.53 L612.92,176.81 L615.96,177.17 L619,177.62 L622.04,178.17 L625.08,178.81 L628.12,179.55 L631.16,180.4 L634.2,180.71" fill="none" stroke="#000" stroke-width="0.9" stroke-opacity="0.75"/>
<path d="M372.7,195.54 L375.74,195.77 L378.78,196.44 L381.82,197.11 L384.86,197.77 L387.9,198.42 L390.94,199.06 L393.98,199.69 L397.03,200.32 L400.07,200.93 L403.11,201.53 L406.15,202.12 L409.19,202.69 L412.23,203.25 L415.27,203.8 L418.31,204.33 L421.35,204.84 L424.39,205.33 L427.43,205.8 L430.47,206.25 L433.51,206.69 L436.55,207.1 L439.6,207.48 L442.64,207.84 L445.68,208.18 L448.72,208.49 L451.76,208.78 L454.8,209.03 L457.84,209.26 L460.88,209.46 L463.92,209.63 L466.96,209.77 L470,209.87 L473.04,209.94 L476.08,209.98 L479.12,209.98 L482.17,209.95 L485.21,209.88 L488.25,209.77 L491.29,209.63 L494.33,209.44 L497.37,209.22 L500.41,208.95 L503.45,208.64 L506.49,208.29 L509.53,207.9 L512.57,207.48 L515.61,207.02 L518.65,206.53 L521.69,206.01 L524.73,205.47 L527.78,204.91 L530.82,204.33 L533.86,203.73 L536.9,203.13 L539.94,202.52 L542.98,201.9 L546.02,201.28 L549.06,200.66 L552.1,200.05 L555.14,199.45 L558.18,198.85 L561.22,198.27 L564.26,197.71 L567.3,197.17 L570.35,196.65 L573.39,196.16 L576.43,195.7 L579.47,195.27 L582.51,194.88 L585.55,194.53 L588.59,194.22 L591.63,193.96 L594.67,193.75 L597.71,193.59 L600.75,193.48 L603.79,193.43 L606.83,193.45 L609.87,193.53 L612.92,193.68 L615.96,193.9 L619,194.19 L622.04,194.56 L625.08,195.02 L628.12,195.55 L631.16,196.18 L634.2,196.41" fill="none" stroke="#000" stroke-width="0.9" stroke-opacity="0.75"/>
<path d="M372.7,213.78 L375.74,214.02 L378.78,214.72 L381.82,215.4 L384.86,216.05 L387.9,216.69 L390.94,217.3 L393.98,217.9 L397.03,218.47 L400.07,219.02 L403.11,219.55 L406.15,220.06 L409.19,220.55 L412.23,221.01 L415.27,221.45 L418.31,221.87 L421.35,222.27 L424.39,222.65 L427.43,223 L430.47,223.33 L433.51,223.63 L436.55,223.91 L439.6,224.17 L442.64,224.41 L445.68,224.62 L448.72,224.8 L451.76,224.97 L454.8,225.1 L457.84,225.22 L460.88,225.3 L463.92,225.37 L466.96,225.41 L470,225.42 L473.04,225.41 L476.08,225.37 L479.12,225.31 L482.17,225.23 L485.21,225.12 L488.25,224.99 L491.29,224.83 L494.33,224.65 L497.37,224.45 L500.41,224.22 L503.45,223.97 L506.49,223.7 L509.53,223.4 L512.57,223.08 L515.61,222.75 L518.65,222.4 L521.69,222.04 L524.73,221.66 L527.78,221.27 L530.82,220.88 L533.86,220.48 L536.9,220.07 L539.94,219.66 L542.98,219.24 L546.02,218.83 L549.06,218.42 L552.1,218.02 L555.14,217.62 L558.18,217.22 L561.22,216.84 L564.26,216.47 L567.3,216.11 L570.35,215.77 L573.39,215.44 L576.43,215.13 L579.47,214.84 L582.51,214.58 L585.55,214.34 L588.59,214.12 L591.63,213.93 L594.67,213.78 L597.71,213.65 L600.75,213.55 L603.79,213.5 L606.83,213.48 L609.87,213.49 L612.92,213.55 L615.96,213.65 L619,213.8 L622.04,213.99 L625.08,214.22 L628.12,214.51 L631.16,214.85 L634.2,214.98" fill="none" stroke="#000" stroke-width="0.9" stroke-opacity="0.75"/>
<line x1="513.06" y1="110" x2="513.06" y2="216.4" stroke="#111" stroke-width="1.0" stroke-dasharray="2,1.2" stroke-opacity="0.6"/>
</g>
<text class="an" x="490.4" y="108" textLength="130" lengthAdjust="spacingAndGlyphs">&#951;(&#8722;1)/&#951;(0)=49.0%/48.7%=1.006</text>
<rect x="374.7" y="4.8" width="257.5" height="211.6" fill="none" stroke="#111" stroke-width="0.8" stroke-opacity="0.85"/>
<text class="tk" x="374.7" y="225.8" text-anchor="middle">0</text>
<line x1="417.62" y1="216.4" x2="417.62" y2="213.9" stroke="#111" stroke-width="0.7"/>
<line x1="417.62" y1="4.8" x2="417.62" y2="7.3" stroke="#111" stroke-width="0.7"/>
<text class="tk" x="417.62" y="225.8" text-anchor="middle">0.05</text>
<line x1="460.53" y1="216.4" x2="460.53" y2="213.9" stroke="#111" stroke-width="0.7"/>
<line x1="460.53" y1="4.8" x2="460.53" y2="7.3" stroke="#111" stroke-width="0.7"/>
<text class="tk" x="460.53" y="225.8" text-anchor="middle">0.1</text>
<line x1="503.45" y1="216.4" x2="503.45" y2="213.9" stroke="#111" stroke-width="0.7"/>
<line x1="503.45" y1="4.8" x2="503.45" y2="7.3" stroke="#111" stroke-width="0.7"/>
<text class="tk" x="503.45" y="225.8" text-anchor="middle">0.15</text>
<line x1="546.37" y1="216.4" x2="546.37" y2="213.9" stroke="#111" stroke-width="0.7"/>
<line x1="546.37" y1="4.8" x2="546.37" y2="7.3" stroke="#111" stroke-width="0.7"/>
<text class="tk" x="546.37" y="225.8" text-anchor="middle">0.2</text>
<line x1="589.28" y1="216.4" x2="589.28" y2="213.9" stroke="#111" stroke-width="0.7"/>
<line x1="589.28" y1="4.8" x2="589.28" y2="7.3" stroke="#111" stroke-width="0.7"/>
<text class="tk" x="589.28" y="225.8" text-anchor="middle">0.25</text>
<text class="tk" x="632.2" y="225.8" text-anchor="middle">0.3</text>
<text class="tk" x="372.7" y="219" text-anchor="end">0.8</text>
<line x1="374.7" y1="181.13" x2="377.2" y2="181.13" stroke="#111" stroke-width="0.7"/>
<line x1="629.7" y1="181.13" x2="632.2" y2="181.13" stroke="#111" stroke-width="0.7"/>
<text class="tk" x="372.7" y="183.73" text-anchor="end">0.85</text>
<line x1="374.7" y1="145.87" x2="377.2" y2="145.87" stroke="#111" stroke-width="0.7"/>
<line x1="629.7" y1="145.87" x2="632.2" y2="145.87" stroke="#111" stroke-width="0.7"/>
<text class="tk" x="372.7" y="148.47" text-anchor="end">0.9</text>
<line x1="374.7" y1="110.6" x2="377.2" y2="110.6" stroke="#111" stroke-width="0.7"/>
<line x1="629.7" y1="110.6" x2="632.2" y2="110.6" stroke="#111" stroke-width="0.7"/>
<text class="tk" x="372.7" y="113.2" text-anchor="end">0.95</text>
<line x1="374.7" y1="75.33" x2="377.2" y2="75.33" stroke="#111" stroke-width="0.7"/>
<line x1="629.7" y1="75.33" x2="632.2" y2="75.33" stroke="#111" stroke-width="0.7"/>
<text class="tk" x="372.7" y="77.93" text-anchor="end">1</text>
<line x1="374.7" y1="40.07" x2="377.2" y2="40.07" stroke="#111" stroke-width="0.7"/>
<line x1="629.7" y1="40.07" x2="632.2" y2="40.07" stroke="#111" stroke-width="0.7"/>
<text class="tk" x="372.7" y="42.67" text-anchor="end">1.05</text>
<text class="tk" x="372.7" y="8.4" text-anchor="end">1.1</text>
<text class="al" x="503.55" y="238.2" text-anchor="middle">Thickness (<tspan font-style="italic">&#956;</tspan>m)</text>
<text class="al" transform="translate(350.4,110.7) rotate(-90)" text-anchor="middle">Groove depth (<tspan font-style="italic">&#956;</tspan>m)</text>
<text class="pl" x="349" y="12.4">(b)</text>
<linearGradient id="g1" x1="0" y1="1" x2="0" y2="0"><stop offset="0%" stop-color="#00008f"/><stop offset="1.56%" stop-color="#00008f"/><stop offset="1.56%" stop-color="#00009f"/><stop offset="3.12%" stop-color="#00009f"/><stop offset="3.12%" stop-color="#0000af"/><stop offset="4.69%" stop-color="#0000af"/><stop offset="4.69%" stop-color="#0000bf"/><stop offset="6.25%" stop-color="#0000bf"/><stop offset="6.25%" stop-color="#0000cf"/><stop offset="7.81%" stop-color="#0000cf"/><stop offset="7.81%" stop-color="#0000df"/><stop offset="9.38%" stop-color="#0000df"/><stop offset="9.38%" stop-color="#0000ef"/><stop offset="10.94%" stop-color="#0000ef"/><stop offset="10.94%" stop-color="#0000ff"/><stop offset="12.5%" stop-color="#0000ff"/><stop offset="12.5%" stop-color="#0010ff"/><stop offset="14.06%" stop-color="#0010ff"/><stop offset="14.06%" stop-color="#0020ff"/><stop offset="15.62%" stop-color="#0020ff"/><stop offset="15.62%" stop-color="#0030ff"/><stop offset="17.19%" stop-color="#0030ff"/><stop offset="17.19%" stop-color="#0040ff"/><stop offset="18.75%" stop-color="#0040ff"/><stop offset="18.75%" stop-color="#0050ff"/><stop offset="20.31%" stop-color="#0050ff"/><stop offset="20.31%" stop-color="#0060ff"/><stop offset="21.88%" stop-color="#0060ff"/><stop offset="21.88%" stop-color="#0070ff"/><stop offset="23.44%" stop-color="#0070ff"/><stop offset="23.44%" stop-color="#0080ff"/><stop offset="25%" stop-color="#0080ff"/><stop offset="25%" stop-color="#008fff"/><stop offset="26.56%" stop-color="#008fff"/><stop offset="26.56%" stop-color="#009fff"/><stop offset="28.12%" stop-color="#009fff"/><stop offset="28.12%" stop-color="#00afff"/><stop offset="29.69%" stop-color="#00afff"/><stop offset="29.69%" stop-color="#00bfff"/><stop offset="31.25%" stop-color="#00bfff"/><stop offset="31.25%" stop-color="#00cfff"/><stop offset="32.81%" stop-color="#00cfff"/><stop offset="32.81%" stop-color="#00dfff"/><stop offset="34.38%" stop-color="#00dfff"/><stop offset="34.38%" stop-color="#00efff"/><stop offset="35.94%" stop-color="#00efff"/><stop offset="35.94%" stop-color="#00ffff"/><stop offset="37.5%" stop-color="#00ffff"/><stop offset="37.5%" stop-color="#10ffef"/><stop offset="39.06%" stop-color="#10ffef"/><stop offset="39.06%" stop-color="#20ffdf"/><stop offset="40.62%" stop-color="#20ffdf"/><stop offset="40.62%" stop-color="#30ffcf"/><stop offset="42.19%" stop-color="#30ffcf"/><stop offset="42.19%" stop-color="#40ffbf"/><stop offset="43.75%" stop-color="#40ffbf"/><stop offset="43.75%" stop-color="#50ffaf"/><stop offset="45.31%" stop-color="#50ffaf"/><stop offset="45.31%" stop-color="#60ff9f"/><stop offset="46.88%" stop-color="#60ff9f"/><stop offset="46.88%" stop-color="#70ff8f"/><stop offset="48.44%" stop-color="#70ff8f"/><stop offset="48.44%" stop-color="#80ff80"/><stop offset="50%" stop-color="#80ff80"/><stop offset="50%" stop-color="#8fff70"/><stop offset="51.56%" stop-color="#8fff70"/><stop offset="51.56%" stop-color="#9fff60"/><stop offset="53.12%" stop-color="#9fff60"/><stop offset="53.12%" stop-color="#afff50"/><stop offset="54.69%" stop-color="#afff50"/><stop offset="54.69%" stop-color="#bfff40"/><stop offset="56.25%" stop-color="#bfff40"/><stop offset="56.25%" stop-color="#cfff30"/><stop offset="57.81%" stop-color="#cfff30"/><stop offset="57.81%" stop-color="#dfff20"/><stop offset="59.38%" stop-color="#dfff20"/><stop offset="59.38%" stop-color="#efff10"/><stop offset="60.94%" stop-color="#efff10"/><stop offset="60.94%" stop-color="#ffff00"/><stop offset="62.5%" stop-color="#ffff00"/><stop offset="62.5%" stop-color="#ffef00"/><stop offset="64.06%" stop-color="#ffef00"/><stop offset="64.06%" stop-color="#ffdf00"/><stop offset="65.62%" stop-color="#ffdf00"/><stop offset="65.62%" stop-color="#ffcf00"/><stop offset="67.19%" stop-color="#ffcf00"/><stop offset="67.19%" stop-color="#ffbf00"/><stop offset="68.75%" stop-color="#ffbf00"/><stop offset="68.75%" stop-color="#ffaf00"/><stop offset="70.31%" stop-color="#ffaf00"/><stop offset="70.31%" stop-color="#ff9f00"/><stop offset="71.88%" stop-color="#ff9f00"/><stop offset="71.88%" stop-color="#ff8f00"/><stop offset="73.44%" stop-color="#ff8f00"/><stop offset="73.44%" stop-color="#ff8000"/><stop offset="75%" stop-color="#ff8000"/><stop offset="75%" stop-color="#ff7000"/><stop offset="76.56%" stop-color="#ff7000"/><stop offset="76.56%" stop-color="#ff6000"/><stop offset="78.12%" stop-color="#ff6000"/><stop offset="78.12%" stop-color="#ff5000"/><stop offset="79.69%" stop-color="#ff5000"/><stop offset="79.69%" stop-color="#ff4000"/><stop offset="81.25%" stop-color="#ff4000"/><stop offset="81.25%" stop-color="#ff3000"/><stop offset="82.81%" stop-color="#ff3000"/><stop offset="82.81%" stop-color="#ff2000"/><stop offset="84.38%" stop-color="#ff2000"/><stop offset="84.38%" stop-color="#ff1000"/><stop offset="85.94%" stop-color="#ff1000"/><stop offset="85.94%" stop-color="#ff0000"/><stop offset="87.5%" stop-color="#ff0000"/><stop offset="87.5%" stop-color="#ef0000"/><stop offset="89.06%" stop-color="#ef0000"/><stop offset="89.06%" stop-color="#df0000"/><stop offset="90.62%" stop-color="#df0000"/><stop offset="90.62%" stop-color="#cf0000"/><stop offset="92.19%" stop-color="#cf0000"/><stop offset="92.19%" stop-color="#bf0000"/><stop offset="93.75%" stop-color="#bf0000"/><stop offset="93.75%" stop-color="#af0000"/><stop offset="95.31%" stop-color="#af0000"/><stop offset="95.31%" stop-color="#9f0000"/><stop offset="96.88%" stop-color="#9f0000"/><stop offset="96.88%" stop-color="#8f0000"/><stop offset="98.44%" stop-color="#8f0000"/><stop offset="98.44%" stop-color="#800000"/><stop offset="100%" stop-color="#800000"/></linearGradient>
<rect x="642.4" y="4.8" width="16.3" height="211.6" fill="url(#g1)" stroke="#111" stroke-width="0.8" stroke-opacity="0.85"/>
<line x1="642.4" y1="200.56" x2="644.4" y2="200.56" stroke="#111" stroke-width="0.7"/>
<line x1="656.7" y1="200.56" x2="658.7" y2="200.56" stroke="#111" stroke-width="0.7"/>
<text class="tk" x="661.7" y="202.56">0.1</text>
<line x1="642.4" y1="182.76" x2="644.4" y2="182.76" stroke="#111" stroke-width="0.7"/>
<line x1="656.7" y1="182.76" x2="658.7" y2="182.76" stroke="#111" stroke-width="0.7"/>
<text class="tk" x="661.7" y="184.76">0.2</text>
<line x1="642.4" y1="164.97" x2="644.4" y2="164.97" stroke="#111" stroke-width="0.7"/>
<line x1="656.7" y1="164.97" x2="658.7" y2="164.97" stroke="#111" stroke-width="0.7"/>
<text class="tk" x="661.7" y="166.97">0.3</text>
<line x1="642.4" y1="147.17" x2="644.4" y2="147.17" stroke="#111" stroke-width="0.7"/>
<line x1="656.7" y1="147.17" x2="658.7" y2="147.17" stroke="#111" stroke-width="0.7"/>
<text class="tk" x="661.7" y="149.17">0.4</text>
<line x1="642.4" y1="129.38" x2="644.4" y2="129.38" stroke="#111" stroke-width="0.7"/>
<line x1="656.7" y1="129.38" x2="658.7" y2="129.38" stroke="#111" stroke-width="0.7"/>
<text class="tk" x="661.7" y="131.38">0.5</text>
<line x1="642.4" y1="111.58" x2="644.4" y2="111.58" stroke="#111" stroke-width="0.7"/>
<line x1="656.7" y1="111.58" x2="658.7" y2="111.58" stroke="#111" stroke-width="0.7"/>
<text class="tk" x="661.7" y="113.58">0.6</text>
<line x1="642.4" y1="93.78" x2="644.4" y2="93.78" stroke="#111" stroke-width="0.7"/>
<line x1="656.7" y1="93.78" x2="658.7" y2="93.78" stroke="#111" stroke-width="0.7"/>
<text class="tk" x="661.7" y="95.78">0.7</text>
<line x1="642.4" y1="75.99" x2="644.4" y2="75.99" stroke="#111" stroke-width="0.7"/>
<line x1="656.7" y1="75.99" x2="658.7" y2="75.99" stroke="#111" stroke-width="0.7"/>
<text class="tk" x="661.7" y="77.99">0.8</text>
<line x1="642.4" y1="58.19" x2="644.4" y2="58.19" stroke="#111" stroke-width="0.7"/>
<line x1="656.7" y1="58.19" x2="658.7" y2="58.19" stroke="#111" stroke-width="0.7"/>
<text class="tk" x="661.7" y="60.19">0.9</text>
<line x1="642.4" y1="40.39" x2="644.4" y2="40.39" stroke="#111" stroke-width="0.7"/>
<line x1="656.7" y1="40.39" x2="658.7" y2="40.39" stroke="#111" stroke-width="0.7"/>
<text class="tk" x="661.7" y="42.39">1</text>
<line x1="642.4" y1="22.6" x2="644.4" y2="22.6" stroke="#111" stroke-width="0.7"/>
<line x1="656.7" y1="22.6" x2="658.7" y2="22.6" stroke="#111" stroke-width="0.7"/>
<text class="tk" x="661.7" y="24.6">1.1</text>
</svg>
</body></html>
